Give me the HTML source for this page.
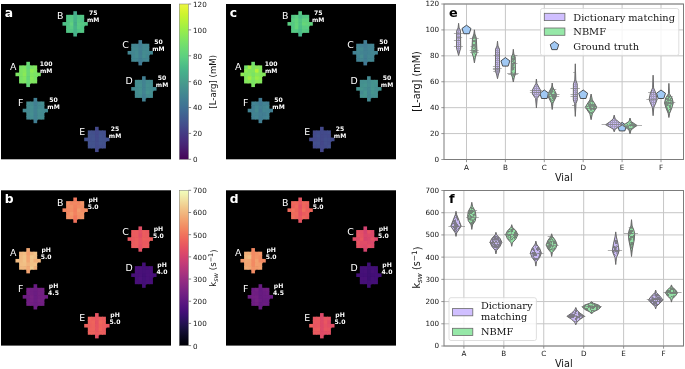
<!DOCTYPE html>
<html lang="en"><head><meta charset="utf-8"><title>Figure</title>
<style>html,body{margin:0;padding:0;background:#fff;}body{width:685px;height:369px;overflow:hidden;}svg{display:block;}</style></head>
<body>
<svg width="685" height="369" viewBox="0 0 685 369" font-family='"DejaVu Sans","Liberation Sans",sans-serif'>
<rect width="685" height="369" fill="#fff"/>
<g id="panel-a">
<rect x="1.0" y="4.0" width="170.0" height="155.3" fill="#000"/>
<rect x="26.32" y="61.79" width="3.62" height="4.31" fill="#69d975"/>
<rect x="19.09" y="65.40" width="4.32" height="4.31" fill="#79e266"/>
<rect x="22.70" y="65.40" width="4.32" height="4.31" fill="#7de463"/>
<rect x="26.32" y="65.40" width="4.32" height="4.31" fill="#64d57a"/>
<rect x="29.94" y="65.40" width="4.32" height="4.31" fill="#7ae366"/>
<rect x="33.55" y="65.40" width="3.62" height="4.31" fill="#83e65e"/>
<rect x="19.09" y="69.01" width="4.32" height="4.31" fill="#7ce463"/>
<rect x="22.70" y="69.01" width="4.32" height="4.31" fill="#84e75d"/>
<rect x="26.32" y="69.01" width="4.32" height="4.31" fill="#69d975"/>
<rect x="29.94" y="69.01" width="4.32" height="4.31" fill="#8eeb54"/>
<rect x="33.55" y="69.01" width="3.62" height="4.31" fill="#81e65f"/>
<rect x="15.47" y="72.62" width="4.32" height="3.61" fill="#7ce463"/>
<rect x="19.09" y="72.62" width="4.32" height="4.31" fill="#7ae366"/>
<rect x="22.70" y="72.62" width="4.32" height="4.31" fill="#8ae957"/>
<rect x="26.32" y="72.62" width="4.32" height="4.31" fill="#68d876"/>
<rect x="29.94" y="72.62" width="4.32" height="4.31" fill="#81e65f"/>
<rect x="33.55" y="72.62" width="4.32" height="4.31" fill="#7ae366"/>
<rect x="37.17" y="72.62" width="3.62" height="3.61" fill="#7be365"/>
<rect x="19.09" y="76.23" width="4.32" height="4.31" fill="#78e267"/>
<rect x="22.70" y="76.23" width="4.32" height="4.31" fill="#81e65f"/>
<rect x="26.32" y="76.23" width="4.32" height="4.31" fill="#64d57a"/>
<rect x="29.94" y="76.23" width="4.32" height="4.31" fill="#87e85a"/>
<rect x="33.55" y="76.23" width="3.62" height="4.31" fill="#7ae366"/>
<rect x="19.09" y="79.84" width="4.32" height="3.61" fill="#7be365"/>
<rect x="22.70" y="79.84" width="4.32" height="3.61" fill="#7ee562"/>
<rect x="26.32" y="79.84" width="4.32" height="4.31" fill="#69d975"/>
<rect x="29.94" y="79.84" width="4.32" height="3.61" fill="#81e65f"/>
<rect x="33.55" y="79.84" width="3.62" height="3.61" fill="#7fe561"/>
<rect x="26.32" y="83.46" width="3.62" height="3.61" fill="#65d679"/>
<text x="13.3" y="69.8" font-size="9.4" fill="#fff" text-anchor="middle">A</text>
<text font-size="6.1" font-weight="bold" fill="#fff" text-anchor="middle"><tspan x="46.2" y="65.8">100</tspan><tspan x="46.2" y="72.8">mM</tspan></text>
<rect x="73.34" y="11.22" width="3.62" height="4.31" fill="#46aa8c"/>
<rect x="66.11" y="14.83" width="4.32" height="4.31" fill="#50c386"/>
<rect x="69.72" y="14.83" width="4.32" height="4.31" fill="#54c784"/>
<rect x="73.34" y="14.83" width="4.32" height="4.31" fill="#48b48a"/>
<rect x="76.96" y="14.83" width="4.32" height="4.31" fill="#50c386"/>
<rect x="80.57" y="14.83" width="3.62" height="4.31" fill="#53c585"/>
<rect x="66.11" y="18.45" width="4.32" height="4.31" fill="#50c386"/>
<rect x="69.72" y="18.45" width="4.32" height="4.31" fill="#58ca83"/>
<rect x="73.34" y="18.45" width="4.32" height="4.31" fill="#47b28a"/>
<rect x="76.96" y="18.45" width="4.32" height="4.31" fill="#54c784"/>
<rect x="80.57" y="18.45" width="3.62" height="4.31" fill="#4ebf87"/>
<rect x="62.49" y="22.06" width="4.32" height="3.61" fill="#4dbe87"/>
<rect x="66.11" y="22.06" width="4.32" height="4.31" fill="#50c386"/>
<rect x="69.72" y="22.06" width="4.32" height="4.31" fill="#60d17f"/>
<rect x="73.34" y="22.06" width="4.32" height="4.31" fill="#46ad8b"/>
<rect x="76.96" y="22.06" width="4.32" height="4.31" fill="#58ca83"/>
<rect x="80.57" y="22.06" width="4.32" height="4.31" fill="#54c784"/>
<rect x="84.19" y="22.06" width="3.62" height="3.61" fill="#52c485"/>
<rect x="66.11" y="25.67" width="4.32" height="4.31" fill="#52c485"/>
<rect x="69.72" y="25.67" width="4.32" height="4.31" fill="#58ca83"/>
<rect x="73.34" y="25.67" width="4.32" height="4.31" fill="#48b38a"/>
<rect x="76.96" y="25.67" width="4.32" height="4.31" fill="#56c983"/>
<rect x="80.57" y="25.67" width="3.62" height="4.31" fill="#50c386"/>
<rect x="66.11" y="29.28" width="4.32" height="3.61" fill="#52c485"/>
<rect x="69.72" y="29.28" width="4.32" height="3.61" fill="#52c485"/>
<rect x="73.34" y="29.28" width="4.32" height="4.31" fill="#47b38a"/>
<rect x="76.96" y="29.28" width="4.32" height="3.61" fill="#4fc286"/>
<rect x="80.57" y="29.28" width="3.62" height="3.61" fill="#54c784"/>
<rect x="73.34" y="32.89" width="3.62" height="3.61" fill="#47b28a"/>
<text x="60.3" y="19.3" font-size="9.4" fill="#fff" text-anchor="middle">B</text>
<text font-size="6.1" font-weight="bold" fill="#fff" text-anchor="middle"><tspan x="93.2" y="15.3">75</tspan><tspan x="93.2" y="22.3">mM</tspan></text>
<rect x="138.45" y="40.12" width="3.62" height="4.31" fill="#417d93"/>
<rect x="131.21" y="43.73" width="4.32" height="4.31" fill="#438691"/>
<rect x="134.83" y="43.73" width="4.32" height="4.31" fill="#438691"/>
<rect x="138.45" y="43.73" width="4.32" height="4.31" fill="#427e92"/>
<rect x="142.06" y="43.73" width="4.32" height="4.31" fill="#448891"/>
<rect x="145.68" y="43.73" width="3.62" height="4.31" fill="#438791"/>
<rect x="131.21" y="47.34" width="4.32" height="4.31" fill="#448a91"/>
<rect x="134.83" y="47.34" width="4.32" height="4.31" fill="#448a91"/>
<rect x="138.45" y="47.34" width="4.32" height="4.31" fill="#428192"/>
<rect x="142.06" y="47.34" width="4.32" height="4.31" fill="#448991"/>
<rect x="145.68" y="47.34" width="3.62" height="4.31" fill="#448991"/>
<rect x="127.60" y="50.95" width="4.32" height="3.61" fill="#438591"/>
<rect x="131.21" y="50.95" width="4.32" height="4.31" fill="#438691"/>
<rect x="134.83" y="50.95" width="4.32" height="4.31" fill="#448b90"/>
<rect x="138.45" y="50.95" width="4.32" height="4.31" fill="#427e92"/>
<rect x="142.06" y="50.95" width="4.32" height="4.31" fill="#448b90"/>
<rect x="145.68" y="50.95" width="4.32" height="4.31" fill="#448991"/>
<rect x="149.30" y="50.95" width="3.62" height="3.61" fill="#438691"/>
<rect x="131.21" y="54.56" width="4.32" height="4.31" fill="#438791"/>
<rect x="134.83" y="54.56" width="4.32" height="4.31" fill="#448c90"/>
<rect x="138.45" y="54.56" width="4.32" height="4.31" fill="#428092"/>
<rect x="142.06" y="54.56" width="4.32" height="4.31" fill="#448d90"/>
<rect x="145.68" y="54.56" width="3.62" height="4.31" fill="#438691"/>
<rect x="131.21" y="58.17" width="4.32" height="3.61" fill="#438791"/>
<rect x="134.83" y="58.17" width="4.32" height="3.61" fill="#438791"/>
<rect x="138.45" y="58.17" width="4.32" height="4.31" fill="#417e92"/>
<rect x="142.06" y="58.17" width="4.32" height="3.61" fill="#438592"/>
<rect x="145.68" y="58.17" width="3.62" height="3.61" fill="#438791"/>
<rect x="138.45" y="61.79" width="3.62" height="3.61" fill="#417a93"/>
<text x="125.5" y="48.2" font-size="9.4" fill="#fff" text-anchor="middle">C</text>
<text font-size="6.1" font-weight="bold" fill="#fff" text-anchor="middle"><tspan x="158.4" y="44.2">50</tspan><tspan x="158.4" y="51.2">mM</tspan></text>
<rect x="142.06" y="76.23" width="3.62" height="4.31" fill="#427f92"/>
<rect x="134.83" y="79.84" width="4.32" height="4.31" fill="#458f90"/>
<rect x="138.45" y="79.84" width="4.32" height="4.31" fill="#448d90"/>
<rect x="142.06" y="79.84" width="4.32" height="4.31" fill="#428392"/>
<rect x="145.68" y="79.84" width="4.32" height="4.31" fill="#458d90"/>
<rect x="149.30" y="79.84" width="3.62" height="4.31" fill="#448c90"/>
<rect x="134.83" y="83.46" width="4.32" height="4.31" fill="#458d90"/>
<rect x="138.45" y="83.46" width="4.32" height="4.31" fill="#45918f"/>
<rect x="142.06" y="83.46" width="4.32" height="4.31" fill="#438392"/>
<rect x="145.68" y="83.46" width="4.32" height="4.31" fill="#45908f"/>
<rect x="149.30" y="83.46" width="3.62" height="4.31" fill="#458e90"/>
<rect x="131.21" y="87.07" width="4.32" height="3.61" fill="#448b90"/>
<rect x="134.83" y="87.07" width="4.32" height="4.31" fill="#448c90"/>
<rect x="138.45" y="87.07" width="4.32" height="4.31" fill="#45908f"/>
<rect x="142.06" y="87.07" width="4.32" height="4.31" fill="#438392"/>
<rect x="145.68" y="87.07" width="4.32" height="4.31" fill="#458f90"/>
<rect x="149.30" y="87.07" width="4.32" height="4.31" fill="#448d90"/>
<rect x="152.91" y="87.07" width="3.62" height="3.61" fill="#448a91"/>
<rect x="134.83" y="90.68" width="4.32" height="4.31" fill="#448c90"/>
<rect x="138.45" y="90.68" width="4.32" height="4.31" fill="#45918f"/>
<rect x="142.06" y="90.68" width="4.32" height="4.31" fill="#438492"/>
<rect x="145.68" y="90.68" width="4.32" height="4.31" fill="#46938f"/>
<rect x="149.30" y="90.68" width="3.62" height="4.31" fill="#458e90"/>
<rect x="134.83" y="94.29" width="4.32" height="3.61" fill="#448b90"/>
<rect x="138.45" y="94.29" width="4.32" height="3.61" fill="#448c90"/>
<rect x="142.06" y="94.29" width="4.32" height="4.31" fill="#427f92"/>
<rect x="145.68" y="94.29" width="4.32" height="3.61" fill="#448b90"/>
<rect x="149.30" y="94.29" width="3.62" height="3.61" fill="#448b90"/>
<rect x="142.06" y="97.90" width="3.62" height="3.61" fill="#428192"/>
<text x="129.1" y="84.3" font-size="9.4" fill="#fff" text-anchor="middle">D</text>
<text font-size="6.1" font-weight="bold" fill="#fff" text-anchor="middle"><tspan x="162.0" y="80.3">50</tspan><tspan x="162.0" y="87.3">mM</tspan></text>
<rect x="33.55" y="97.90" width="3.62" height="4.31" fill="#427f92"/>
<rect x="26.32" y="101.51" width="4.32" height="4.31" fill="#448c90"/>
<rect x="29.94" y="101.51" width="4.32" height="4.31" fill="#448b90"/>
<rect x="33.55" y="101.51" width="4.32" height="4.31" fill="#427e92"/>
<rect x="37.17" y="101.51" width="4.32" height="4.31" fill="#448a91"/>
<rect x="40.79" y="101.51" width="3.62" height="4.31" fill="#458e90"/>
<rect x="26.32" y="105.13" width="4.32" height="4.31" fill="#448b90"/>
<rect x="29.94" y="105.13" width="4.32" height="4.31" fill="#458f90"/>
<rect x="33.55" y="105.13" width="4.32" height="4.31" fill="#428192"/>
<rect x="37.17" y="105.13" width="4.32" height="4.31" fill="#448a91"/>
<rect x="40.79" y="105.13" width="3.62" height="4.31" fill="#448a91"/>
<rect x="22.70" y="108.74" width="4.32" height="3.61" fill="#448991"/>
<rect x="26.32" y="108.74" width="4.32" height="4.31" fill="#448991"/>
<rect x="29.94" y="108.74" width="4.32" height="4.31" fill="#458d90"/>
<rect x="33.55" y="108.74" width="4.32" height="4.31" fill="#428292"/>
<rect x="37.17" y="108.74" width="4.32" height="4.31" fill="#458e90"/>
<rect x="40.79" y="108.74" width="4.32" height="4.31" fill="#448b91"/>
<rect x="44.40" y="108.74" width="3.62" height="3.61" fill="#448991"/>
<rect x="26.32" y="112.35" width="4.32" height="4.31" fill="#448b90"/>
<rect x="29.94" y="112.35" width="4.32" height="4.31" fill="#458f90"/>
<rect x="33.55" y="112.35" width="4.32" height="4.31" fill="#428192"/>
<rect x="37.17" y="112.35" width="4.32" height="4.31" fill="#458c90"/>
<rect x="40.79" y="112.35" width="3.62" height="4.31" fill="#448a91"/>
<rect x="26.32" y="115.96" width="4.32" height="3.61" fill="#448891"/>
<rect x="29.94" y="115.96" width="4.32" height="3.61" fill="#448c90"/>
<rect x="33.55" y="115.96" width="4.32" height="4.31" fill="#428192"/>
<rect x="37.17" y="115.96" width="4.32" height="3.61" fill="#458c90"/>
<rect x="40.79" y="115.96" width="3.62" height="3.61" fill="#448c90"/>
<rect x="33.55" y="119.57" width="3.62" height="3.61" fill="#417e92"/>
<text x="20.6" y="105.9" font-size="9.4" fill="#fff" text-anchor="middle">F</text>
<text font-size="6.1" font-weight="bold" fill="#fff" text-anchor="middle"><tspan x="53.5" y="101.9">50</tspan><tspan x="53.5" y="108.9">mM</tspan></text>
<rect x="95.04" y="126.80" width="3.62" height="4.31" fill="#44498a"/>
<rect x="87.81" y="130.41" width="4.32" height="4.31" fill="#43528d"/>
<rect x="91.43" y="130.41" width="4.32" height="4.31" fill="#434f8c"/>
<rect x="95.04" y="130.41" width="4.32" height="4.31" fill="#444a8b"/>
<rect x="98.66" y="130.41" width="4.32" height="4.31" fill="#43518d"/>
<rect x="102.28" y="130.41" width="3.62" height="4.31" fill="#43508d"/>
<rect x="87.81" y="134.02" width="4.32" height="4.31" fill="#43528d"/>
<rect x="91.43" y="134.02" width="4.32" height="4.31" fill="#43528d"/>
<rect x="95.04" y="134.02" width="4.32" height="4.31" fill="#444a8b"/>
<rect x="98.66" y="134.02" width="4.32" height="4.31" fill="#43548e"/>
<rect x="102.28" y="134.02" width="3.62" height="4.31" fill="#43508d"/>
<rect x="84.19" y="137.63" width="4.32" height="3.61" fill="#43528d"/>
<rect x="87.81" y="137.63" width="4.32" height="4.31" fill="#43508d"/>
<rect x="91.43" y="137.63" width="4.32" height="4.31" fill="#43538e"/>
<rect x="95.04" y="137.63" width="4.32" height="4.31" fill="#434b8b"/>
<rect x="98.66" y="137.63" width="4.32" height="4.31" fill="#42548e"/>
<rect x="102.28" y="137.63" width="4.32" height="4.31" fill="#43528d"/>
<rect x="105.89" y="137.63" width="3.62" height="3.61" fill="#43528d"/>
<rect x="87.81" y="141.24" width="4.32" height="4.31" fill="#43538e"/>
<rect x="91.43" y="141.24" width="4.32" height="4.31" fill="#43528d"/>
<rect x="95.04" y="141.24" width="4.32" height="4.31" fill="#434d8c"/>
<rect x="98.66" y="141.24" width="4.32" height="4.31" fill="#43538e"/>
<rect x="102.28" y="141.24" width="3.62" height="4.31" fill="#43528d"/>
<rect x="87.81" y="144.85" width="4.32" height="3.61" fill="#43518d"/>
<rect x="91.43" y="144.85" width="4.32" height="3.61" fill="#43538e"/>
<rect x="95.04" y="144.85" width="4.32" height="4.31" fill="#434b8b"/>
<rect x="98.66" y="144.85" width="4.32" height="3.61" fill="#434f8c"/>
<rect x="102.28" y="144.85" width="3.62" height="3.61" fill="#43508d"/>
<rect x="95.04" y="148.47" width="3.62" height="3.61" fill="#44498a"/>
<text x="82.1" y="134.8" font-size="9.4" fill="#fff" text-anchor="middle">E</text>
<text font-size="6.1" font-weight="bold" fill="#fff" text-anchor="middle"><tspan x="115.0" y="130.8">25</tspan><tspan x="115.0" y="137.8">mM</tspan></text>
<text x="4.7" y="16.8" font-size="12.3" font-weight="bold" fill="#fff">a</text>
</g>
<g id="panel-b">
<rect x="1.0" y="190.3" width="170.0" height="155.3" fill="#000"/>
<rect x="26.32" y="248.09" width="3.62" height="4.31" fill="#f1a874"/>
<rect x="19.09" y="251.70" width="4.32" height="4.31" fill="#f0b77f"/>
<rect x="22.70" y="251.70" width="4.32" height="4.31" fill="#f1bd83"/>
<rect x="26.32" y="251.70" width="4.32" height="4.31" fill="#f29f6e"/>
<rect x="29.94" y="251.70" width="4.32" height="4.31" fill="#f0b77f"/>
<rect x="33.55" y="251.70" width="3.62" height="4.31" fill="#f1c388"/>
<rect x="19.09" y="255.31" width="4.32" height="4.31" fill="#f0b980"/>
<rect x="22.70" y="255.31" width="4.32" height="4.31" fill="#f1c388"/>
<rect x="26.32" y="255.31" width="4.32" height="4.31" fill="#f2a572"/>
<rect x="29.94" y="255.31" width="4.32" height="4.31" fill="#f1c98d"/>
<rect x="33.55" y="255.31" width="3.62" height="4.31" fill="#f1bf85"/>
<rect x="15.47" y="258.92" width="4.32" height="3.61" fill="#f1bb82"/>
<rect x="19.09" y="258.92" width="4.32" height="4.31" fill="#f0b980"/>
<rect x="22.70" y="258.92" width="4.32" height="4.31" fill="#f1c388"/>
<rect x="26.32" y="258.92" width="4.32" height="4.31" fill="#f2a673"/>
<rect x="29.94" y="258.92" width="4.32" height="4.31" fill="#f1c388"/>
<rect x="33.55" y="258.92" width="4.32" height="4.31" fill="#f1b079"/>
<rect x="37.17" y="258.92" width="3.62" height="3.61" fill="#f0b77f"/>
<rect x="19.09" y="262.53" width="4.32" height="4.31" fill="#f1bd83"/>
<rect x="22.70" y="262.53" width="4.32" height="4.31" fill="#f1bf85"/>
<rect x="26.32" y="262.53" width="4.32" height="4.31" fill="#f1b27b"/>
<rect x="29.94" y="262.53" width="4.32" height="4.31" fill="#f1c186"/>
<rect x="33.55" y="262.53" width="3.62" height="4.31" fill="#f1c388"/>
<rect x="19.09" y="266.14" width="4.32" height="3.61" fill="#f0b980"/>
<rect x="22.70" y="266.14" width="4.32" height="3.61" fill="#f0b77f"/>
<rect x="26.32" y="266.14" width="4.32" height="4.31" fill="#f1aa75"/>
<rect x="29.94" y="266.14" width="4.32" height="3.61" fill="#f1cd90"/>
<rect x="33.55" y="266.14" width="3.62" height="3.61" fill="#f1b27b"/>
<rect x="26.32" y="269.76" width="3.62" height="3.61" fill="#f2a370"/>
<text x="13.3" y="256.1" font-size="9.4" fill="#fff" text-anchor="middle">A</text>
<text font-size="6.1" font-weight="bold" fill="#fff" text-anchor="middle"><tspan x="46.2" y="252.1">pH</tspan><tspan x="46.2" y="259.1">5.0</tspan></text>
<rect x="73.34" y="197.52" width="3.62" height="4.31" fill="#f1795e"/>
<rect x="66.11" y="201.13" width="4.32" height="4.31" fill="#f29267"/>
<rect x="69.72" y="201.13" width="4.32" height="4.31" fill="#f28662"/>
<rect x="73.34" y="201.13" width="4.32" height="4.31" fill="#f28862"/>
<rect x="76.96" y="201.13" width="4.32" height="4.31" fill="#f28662"/>
<rect x="80.57" y="201.13" width="3.62" height="4.31" fill="#f29669"/>
<rect x="66.11" y="204.75" width="4.32" height="4.31" fill="#f28c64"/>
<rect x="69.72" y="204.75" width="4.32" height="4.31" fill="#f29066"/>
<rect x="73.34" y="204.75" width="4.32" height="4.31" fill="#f28360"/>
<rect x="76.96" y="204.75" width="4.32" height="4.31" fill="#f28c64"/>
<rect x="80.57" y="204.75" width="3.62" height="4.31" fill="#f28e65"/>
<rect x="62.49" y="208.36" width="4.32" height="3.61" fill="#f28561"/>
<rect x="66.11" y="208.36" width="4.32" height="4.31" fill="#f28862"/>
<rect x="69.72" y="208.36" width="4.32" height="4.31" fill="#f28e65"/>
<rect x="73.34" y="208.36" width="4.32" height="4.31" fill="#f27f5f"/>
<rect x="76.96" y="208.36" width="4.32" height="4.31" fill="#f29b6c"/>
<rect x="80.57" y="208.36" width="4.32" height="4.31" fill="#f28c64"/>
<rect x="84.19" y="208.36" width="3.62" height="3.61" fill="#f29066"/>
<rect x="66.11" y="211.97" width="4.32" height="4.31" fill="#f28a63"/>
<rect x="69.72" y="211.97" width="4.32" height="4.31" fill="#f2976a"/>
<rect x="73.34" y="211.97" width="4.32" height="4.31" fill="#f28360"/>
<rect x="76.96" y="211.97" width="4.32" height="4.31" fill="#f29267"/>
<rect x="80.57" y="211.97" width="3.62" height="4.31" fill="#f29267"/>
<rect x="66.11" y="215.58" width="4.32" height="3.61" fill="#f29066"/>
<rect x="69.72" y="215.58" width="4.32" height="3.61" fill="#f29066"/>
<rect x="73.34" y="215.58" width="4.32" height="4.31" fill="#f1775d"/>
<rect x="76.96" y="215.58" width="4.32" height="3.61" fill="#f28e65"/>
<rect x="80.57" y="215.58" width="3.62" height="3.61" fill="#f29669"/>
<rect x="73.34" y="219.19" width="3.62" height="3.61" fill="#f0725c"/>
<text x="60.3" y="205.6" font-size="9.4" fill="#fff" text-anchor="middle">B</text>
<text font-size="6.1" font-weight="bold" fill="#fff" text-anchor="middle"><tspan x="93.2" y="201.6">pH</tspan><tspan x="93.2" y="208.6">5.0</tspan></text>
<rect x="138.45" y="226.42" width="3.62" height="4.31" fill="#e24f65"/>
<rect x="131.21" y="230.03" width="4.32" height="4.31" fill="#ea5b5f"/>
<rect x="134.83" y="230.03" width="4.32" height="4.31" fill="#eb5c5e"/>
<rect x="138.45" y="230.03" width="4.32" height="4.31" fill="#e55263"/>
<rect x="142.06" y="230.03" width="4.32" height="4.31" fill="#eb5e5e"/>
<rect x="145.68" y="230.03" width="3.62" height="4.31" fill="#e9595f"/>
<rect x="131.21" y="233.64" width="4.32" height="4.31" fill="#ea5b5f"/>
<rect x="134.83" y="233.64" width="4.32" height="4.31" fill="#eb5c5e"/>
<rect x="138.45" y="233.64" width="4.32" height="4.31" fill="#e14e66"/>
<rect x="142.06" y="233.64" width="4.32" height="4.31" fill="#eb5c5e"/>
<rect x="145.68" y="233.64" width="3.62" height="4.31" fill="#ea5b5f"/>
<rect x="127.60" y="237.25" width="4.32" height="3.61" fill="#e95860"/>
<rect x="131.21" y="237.25" width="4.32" height="4.31" fill="#e9595f"/>
<rect x="134.83" y="237.25" width="4.32" height="4.31" fill="#ec5e5e"/>
<rect x="138.45" y="237.25" width="4.32" height="4.31" fill="#e65462"/>
<rect x="142.06" y="237.25" width="4.32" height="4.31" fill="#ec5f5d"/>
<rect x="145.68" y="237.25" width="4.32" height="4.31" fill="#eb5c5e"/>
<rect x="149.30" y="237.25" width="3.62" height="3.61" fill="#ec5f5d"/>
<rect x="131.21" y="240.86" width="4.32" height="4.31" fill="#ea5b5f"/>
<rect x="134.83" y="240.86" width="4.32" height="4.31" fill="#ec5f5d"/>
<rect x="138.45" y="240.86" width="4.32" height="4.31" fill="#e65462"/>
<rect x="142.06" y="240.86" width="4.32" height="4.31" fill="#ea595f"/>
<rect x="145.68" y="240.86" width="3.62" height="4.31" fill="#e9595f"/>
<rect x="131.21" y="244.47" width="4.32" height="3.61" fill="#eb5c5e"/>
<rect x="134.83" y="244.47" width="4.32" height="3.61" fill="#eb5e5e"/>
<rect x="138.45" y="244.47" width="4.32" height="4.31" fill="#e35064"/>
<rect x="142.06" y="244.47" width="4.32" height="3.61" fill="#ea5b5f"/>
<rect x="145.68" y="244.47" width="3.62" height="3.61" fill="#eb5c5e"/>
<rect x="138.45" y="248.09" width="3.62" height="3.61" fill="#e45163"/>
<text x="125.5" y="234.5" font-size="9.4" fill="#fff" text-anchor="middle">C</text>
<text font-size="6.1" font-weight="bold" fill="#fff" text-anchor="middle"><tspan x="158.4" y="230.5">pH</tspan><tspan x="158.4" y="237.5">5.0</tspan></text>
<rect x="142.06" y="262.53" width="3.62" height="4.31" fill="#420f75"/>
<rect x="134.83" y="266.14" width="4.32" height="4.31" fill="#491079"/>
<rect x="138.45" y="266.14" width="4.32" height="4.31" fill="#491079"/>
<rect x="142.06" y="266.14" width="4.32" height="4.31" fill="#440f77"/>
<rect x="145.68" y="266.14" width="4.32" height="4.31" fill="#440f77"/>
<rect x="149.30" y="266.14" width="3.62" height="4.31" fill="#491079"/>
<rect x="134.83" y="269.76" width="4.32" height="4.31" fill="#4a107a"/>
<rect x="138.45" y="269.76" width="4.32" height="4.31" fill="#491079"/>
<rect x="142.06" y="269.76" width="4.32" height="4.31" fill="#471078"/>
<rect x="145.68" y="269.76" width="4.32" height="4.31" fill="#491079"/>
<rect x="149.30" y="269.76" width="3.62" height="4.31" fill="#491079"/>
<rect x="131.21" y="273.37" width="4.32" height="3.61" fill="#471078"/>
<rect x="134.83" y="273.37" width="4.32" height="4.31" fill="#471078"/>
<rect x="138.45" y="273.37" width="4.32" height="4.31" fill="#4a107a"/>
<rect x="142.06" y="273.37" width="4.32" height="4.31" fill="#440f77"/>
<rect x="145.68" y="273.37" width="4.32" height="4.31" fill="#4a107a"/>
<rect x="149.30" y="273.37" width="4.32" height="4.31" fill="#4a107a"/>
<rect x="152.91" y="273.37" width="3.62" height="3.61" fill="#471078"/>
<rect x="134.83" y="276.98" width="4.32" height="4.31" fill="#471078"/>
<rect x="138.45" y="276.98" width="4.32" height="4.31" fill="#4c117b"/>
<rect x="142.06" y="276.98" width="4.32" height="4.31" fill="#451078"/>
<rect x="145.68" y="276.98" width="4.32" height="4.31" fill="#4a107a"/>
<rect x="149.30" y="276.98" width="3.62" height="4.31" fill="#471078"/>
<rect x="134.83" y="280.59" width="4.32" height="3.61" fill="#491079"/>
<rect x="138.45" y="280.59" width="4.32" height="3.61" fill="#471078"/>
<rect x="142.06" y="280.59" width="4.32" height="4.31" fill="#440f77"/>
<rect x="145.68" y="280.59" width="4.32" height="3.61" fill="#491079"/>
<rect x="149.30" y="280.59" width="3.62" height="3.61" fill="#491079"/>
<rect x="142.06" y="284.20" width="3.62" height="3.61" fill="#451078"/>
<text x="129.1" y="270.6" font-size="9.4" fill="#fff" text-anchor="middle">D</text>
<text font-size="6.1" font-weight="bold" fill="#fff" text-anchor="middle"><tspan x="162.0" y="266.6">pH</tspan><tspan x="162.0" y="273.6">4.0</tspan></text>
<rect x="33.55" y="284.20" width="3.62" height="4.31" fill="#681c82"/>
<rect x="26.32" y="287.81" width="4.32" height="4.31" fill="#732083"/>
<rect x="29.94" y="287.81" width="4.32" height="4.31" fill="#701f82"/>
<rect x="33.55" y="287.81" width="4.32" height="4.31" fill="#6d1d82"/>
<rect x="37.17" y="287.81" width="4.32" height="4.31" fill="#721f82"/>
<rect x="40.79" y="287.81" width="3.62" height="4.31" fill="#721f82"/>
<rect x="26.32" y="291.43" width="4.32" height="4.31" fill="#721f82"/>
<rect x="29.94" y="291.43" width="4.32" height="4.31" fill="#701f82"/>
<rect x="33.55" y="291.43" width="4.32" height="4.31" fill="#6b1d82"/>
<rect x="37.17" y="291.43" width="4.32" height="4.31" fill="#721f82"/>
<rect x="40.79" y="291.43" width="3.62" height="4.31" fill="#701f82"/>
<rect x="22.70" y="295.04" width="4.32" height="3.61" fill="#6d1d82"/>
<rect x="26.32" y="295.04" width="4.32" height="4.31" fill="#6e1e82"/>
<rect x="29.94" y="295.04" width="4.32" height="4.31" fill="#762183"/>
<rect x="33.55" y="295.04" width="4.32" height="4.31" fill="#6b1d82"/>
<rect x="37.17" y="295.04" width="4.32" height="4.31" fill="#721f82"/>
<rect x="40.79" y="295.04" width="4.32" height="4.31" fill="#721f82"/>
<rect x="44.40" y="295.04" width="3.62" height="3.61" fill="#6d1d82"/>
<rect x="26.32" y="298.65" width="4.32" height="4.31" fill="#6e1e82"/>
<rect x="29.94" y="298.65" width="4.32" height="4.31" fill="#732083"/>
<rect x="33.55" y="298.65" width="4.32" height="4.31" fill="#6b1d82"/>
<rect x="37.17" y="298.65" width="4.32" height="4.31" fill="#732083"/>
<rect x="40.79" y="298.65" width="3.62" height="4.31" fill="#721f82"/>
<rect x="26.32" y="302.26" width="4.32" height="3.61" fill="#701f82"/>
<rect x="29.94" y="302.26" width="4.32" height="3.61" fill="#701f82"/>
<rect x="33.55" y="302.26" width="4.32" height="4.31" fill="#6b1d82"/>
<rect x="37.17" y="302.26" width="4.32" height="3.61" fill="#701f82"/>
<rect x="40.79" y="302.26" width="3.62" height="3.61" fill="#701f82"/>
<rect x="33.55" y="305.87" width="3.62" height="3.61" fill="#6b1d82"/>
<text x="20.6" y="292.2" font-size="9.4" fill="#fff" text-anchor="middle">F</text>
<text font-size="6.1" font-weight="bold" fill="#fff" text-anchor="middle"><tspan x="53.5" y="288.2">pH</tspan><tspan x="53.5" y="295.2">4.5</tspan></text>
<rect x="95.04" y="313.10" width="3.62" height="4.31" fill="#e65462"/>
<rect x="87.81" y="316.71" width="4.32" height="4.31" fill="#ee645c"/>
<rect x="91.43" y="316.71" width="4.32" height="4.31" fill="#eb5c5e"/>
<rect x="95.04" y="316.71" width="4.32" height="4.31" fill="#e75561"/>
<rect x="98.66" y="316.71" width="4.32" height="4.31" fill="#eb5e5e"/>
<rect x="102.28" y="316.71" width="3.62" height="4.31" fill="#ea5b5f"/>
<rect x="87.81" y="320.32" width="4.32" height="4.31" fill="#ec615d"/>
<rect x="91.43" y="320.32" width="4.32" height="4.31" fill="#ee645c"/>
<rect x="95.04" y="320.32" width="4.32" height="4.31" fill="#e55263"/>
<rect x="98.66" y="320.32" width="4.32" height="4.31" fill="#ee675c"/>
<rect x="102.28" y="320.32" width="3.62" height="4.31" fill="#ec615d"/>
<rect x="84.19" y="323.93" width="4.32" height="3.61" fill="#ed625d"/>
<rect x="87.81" y="323.93" width="4.32" height="4.31" fill="#eb5e5e"/>
<rect x="91.43" y="323.93" width="4.32" height="4.31" fill="#ed625d"/>
<rect x="95.04" y="323.93" width="4.32" height="4.31" fill="#e65462"/>
<rect x="98.66" y="323.93" width="4.32" height="4.31" fill="#ed615d"/>
<rect x="102.28" y="323.93" width="4.32" height="4.31" fill="#eb5e5e"/>
<rect x="105.89" y="323.93" width="3.62" height="3.61" fill="#e85661"/>
<rect x="87.81" y="327.54" width="4.32" height="4.31" fill="#ec615d"/>
<rect x="91.43" y="327.54" width="4.32" height="4.31" fill="#ed625d"/>
<rect x="95.04" y="327.54" width="4.32" height="4.31" fill="#e75561"/>
<rect x="98.66" y="327.54" width="4.32" height="4.31" fill="#ee645c"/>
<rect x="102.28" y="327.54" width="3.62" height="4.31" fill="#ea5b5f"/>
<rect x="87.81" y="331.15" width="4.32" height="3.61" fill="#ed625d"/>
<rect x="91.43" y="331.15" width="4.32" height="3.61" fill="#ed625d"/>
<rect x="95.04" y="331.15" width="4.32" height="4.31" fill="#e9595f"/>
<rect x="98.66" y="331.15" width="4.32" height="3.61" fill="#ec5f5d"/>
<rect x="102.28" y="331.15" width="3.62" height="3.61" fill="#eb5e5e"/>
<rect x="95.04" y="334.77" width="3.62" height="3.61" fill="#e35064"/>
<text x="82.1" y="321.1" font-size="9.4" fill="#fff" text-anchor="middle">E</text>
<text font-size="6.1" font-weight="bold" fill="#fff" text-anchor="middle"><tspan x="115.0" y="317.1">pH</tspan><tspan x="115.0" y="324.1">5.0</tspan></text>
<text x="4.7" y="203.1" font-size="12.3" font-weight="bold" fill="#fff">b</text>
</g>
<g id="panel-c">
<rect x="226.0" y="4.0" width="170.0" height="155.3" fill="#000"/>
<rect x="251.32" y="61.79" width="3.62" height="4.31" fill="#71de6e"/>
<rect x="244.09" y="65.40" width="4.32" height="4.31" fill="#75e06a"/>
<rect x="247.70" y="65.40" width="4.32" height="4.31" fill="#a4f043"/>
<rect x="251.32" y="65.40" width="4.32" height="4.31" fill="#7de463"/>
<rect x="254.94" y="65.40" width="4.32" height="4.31" fill="#8ae957"/>
<rect x="258.55" y="65.40" width="3.62" height="4.31" fill="#85e85b"/>
<rect x="244.09" y="69.01" width="4.32" height="4.31" fill="#8feb52"/>
<rect x="247.70" y="69.01" width="4.32" height="4.31" fill="#82e65e"/>
<rect x="251.32" y="69.01" width="4.32" height="4.31" fill="#82e65e"/>
<rect x="254.94" y="69.01" width="4.32" height="4.31" fill="#b3f23b"/>
<rect x="258.55" y="69.01" width="3.62" height="4.31" fill="#83e65e"/>
<rect x="240.47" y="72.62" width="4.32" height="3.61" fill="#8eeb54"/>
<rect x="244.09" y="72.62" width="4.32" height="4.31" fill="#81e65f"/>
<rect x="247.70" y="72.62" width="4.32" height="4.31" fill="#87e85a"/>
<rect x="251.32" y="72.62" width="4.32" height="4.31" fill="#7ae366"/>
<rect x="254.94" y="72.62" width="4.32" height="4.31" fill="#8ae957"/>
<rect x="258.55" y="72.62" width="4.32" height="4.31" fill="#84e75d"/>
<rect x="262.17" y="72.62" width="3.62" height="3.61" fill="#85e85b"/>
<rect x="244.09" y="76.23" width="4.32" height="4.31" fill="#87e85a"/>
<rect x="247.70" y="76.23" width="4.32" height="4.31" fill="#a0ef46"/>
<rect x="251.32" y="76.23" width="4.32" height="4.31" fill="#81e65f"/>
<rect x="254.94" y="76.23" width="4.32" height="4.31" fill="#98ee4a"/>
<rect x="258.55" y="76.23" width="3.62" height="4.31" fill="#8cea55"/>
<rect x="244.09" y="79.84" width="4.32" height="3.61" fill="#84e75d"/>
<rect x="247.70" y="79.84" width="4.32" height="3.61" fill="#87e85a"/>
<rect x="251.32" y="79.84" width="4.32" height="4.31" fill="#7be365"/>
<rect x="254.94" y="79.84" width="4.32" height="3.61" fill="#89e958"/>
<rect x="258.55" y="79.84" width="3.62" height="3.61" fill="#84e75d"/>
<rect x="251.32" y="83.46" width="3.62" height="3.61" fill="#7de463"/>
<text x="238.3" y="69.8" font-size="9.4" fill="#fff" text-anchor="middle">A</text>
<text font-size="6.1" font-weight="bold" fill="#fff" text-anchor="middle"><tspan x="271.2" y="65.8">100</tspan><tspan x="271.2" y="72.8">mM</tspan></text>
<rect x="298.34" y="11.22" width="3.62" height="4.31" fill="#55c884"/>
<rect x="291.11" y="14.83" width="4.32" height="4.31" fill="#52c485"/>
<rect x="294.72" y="14.83" width="4.32" height="4.31" fill="#5cce81"/>
<rect x="298.34" y="14.83" width="4.32" height="4.31" fill="#4bbc88"/>
<rect x="301.96" y="14.83" width="4.32" height="4.31" fill="#54c784"/>
<rect x="305.57" y="14.83" width="3.62" height="4.31" fill="#55c884"/>
<rect x="291.11" y="18.45" width="4.32" height="4.31" fill="#5bcd81"/>
<rect x="294.72" y="18.45" width="4.32" height="4.31" fill="#61d37d"/>
<rect x="298.34" y="18.45" width="4.32" height="4.31" fill="#52c485"/>
<rect x="301.96" y="18.45" width="4.32" height="4.31" fill="#60d17f"/>
<rect x="305.57" y="18.45" width="3.62" height="4.31" fill="#5fd080"/>
<rect x="287.49" y="22.06" width="4.32" height="3.61" fill="#5acd81"/>
<rect x="291.11" y="22.06" width="4.32" height="4.31" fill="#56c983"/>
<rect x="294.72" y="22.06" width="4.32" height="4.31" fill="#63d47c"/>
<rect x="298.34" y="22.06" width="4.32" height="4.31" fill="#52c485"/>
<rect x="301.96" y="22.06" width="4.32" height="4.31" fill="#65d679"/>
<rect x="305.57" y="22.06" width="4.32" height="4.31" fill="#62d37d"/>
<rect x="309.19" y="22.06" width="3.62" height="3.61" fill="#61d27e"/>
<rect x="291.11" y="25.67" width="4.32" height="4.31" fill="#55c884"/>
<rect x="294.72" y="25.67" width="4.32" height="4.31" fill="#65d679"/>
<rect x="298.34" y="25.67" width="4.32" height="4.31" fill="#4ebf87"/>
<rect x="301.96" y="25.67" width="4.32" height="4.31" fill="#59cc82"/>
<rect x="305.57" y="25.67" width="3.62" height="4.31" fill="#5bcd82"/>
<rect x="291.11" y="29.28" width="4.32" height="3.61" fill="#56c983"/>
<rect x="294.72" y="29.28" width="4.32" height="3.61" fill="#55c884"/>
<rect x="298.34" y="29.28" width="4.32" height="4.31" fill="#4bbc88"/>
<rect x="301.96" y="29.28" width="4.32" height="3.61" fill="#58ca83"/>
<rect x="305.57" y="29.28" width="3.62" height="3.61" fill="#53c585"/>
<rect x="298.34" y="32.89" width="3.62" height="3.61" fill="#48b48a"/>
<text x="285.3" y="19.3" font-size="9.4" fill="#fff" text-anchor="middle">B</text>
<text font-size="6.1" font-weight="bold" fill="#fff" text-anchor="middle"><tspan x="318.2" y="15.3">75</tspan><tspan x="318.2" y="22.3">mM</tspan></text>
<rect x="363.45" y="40.12" width="3.62" height="4.31" fill="#417c93"/>
<rect x="356.21" y="43.73" width="4.32" height="4.31" fill="#428392"/>
<rect x="359.83" y="43.73" width="4.32" height="4.31" fill="#428092"/>
<rect x="363.45" y="43.73" width="4.32" height="4.31" fill="#417b93"/>
<rect x="367.06" y="43.73" width="4.32" height="4.31" fill="#438392"/>
<rect x="370.68" y="43.73" width="3.62" height="4.31" fill="#438492"/>
<rect x="356.21" y="47.34" width="4.32" height="4.31" fill="#438791"/>
<rect x="359.83" y="47.34" width="4.32" height="4.31" fill="#448991"/>
<rect x="363.45" y="47.34" width="4.32" height="4.31" fill="#427e92"/>
<rect x="367.06" y="47.34" width="4.32" height="4.31" fill="#438492"/>
<rect x="370.68" y="47.34" width="3.62" height="4.31" fill="#428492"/>
<rect x="352.60" y="50.95" width="4.32" height="3.61" fill="#427f92"/>
<rect x="356.21" y="50.95" width="4.32" height="4.31" fill="#438591"/>
<rect x="359.83" y="50.95" width="4.32" height="4.31" fill="#438591"/>
<rect x="363.45" y="50.95" width="4.32" height="4.31" fill="#428192"/>
<rect x="367.06" y="50.95" width="4.32" height="4.31" fill="#428392"/>
<rect x="370.68" y="50.95" width="4.32" height="4.31" fill="#438691"/>
<rect x="374.30" y="50.95" width="3.62" height="3.61" fill="#438492"/>
<rect x="356.21" y="54.56" width="4.32" height="4.31" fill="#428392"/>
<rect x="359.83" y="54.56" width="4.32" height="4.31" fill="#458c90"/>
<rect x="363.45" y="54.56" width="4.32" height="4.31" fill="#427e92"/>
<rect x="367.06" y="54.56" width="4.32" height="4.31" fill="#438691"/>
<rect x="370.68" y="54.56" width="3.62" height="4.31" fill="#438492"/>
<rect x="356.21" y="58.17" width="4.32" height="3.61" fill="#428192"/>
<rect x="359.83" y="58.17" width="4.32" height="3.61" fill="#438691"/>
<rect x="363.45" y="58.17" width="4.32" height="4.31" fill="#417d93"/>
<rect x="367.06" y="58.17" width="4.32" height="3.61" fill="#438691"/>
<rect x="370.68" y="58.17" width="3.62" height="3.61" fill="#438691"/>
<rect x="363.45" y="61.79" width="3.62" height="3.61" fill="#417993"/>
<text x="350.5" y="48.2" font-size="9.4" fill="#fff" text-anchor="middle">C</text>
<text font-size="6.1" font-weight="bold" fill="#fff" text-anchor="middle"><tspan x="383.4" y="44.2">50</tspan><tspan x="383.4" y="51.2">mM</tspan></text>
<rect x="367.06" y="76.23" width="3.62" height="4.31" fill="#448a91"/>
<rect x="359.83" y="79.84" width="4.32" height="4.31" fill="#458f90"/>
<rect x="363.45" y="79.84" width="4.32" height="4.31" fill="#45908f"/>
<rect x="367.06" y="79.84" width="4.32" height="4.31" fill="#448b90"/>
<rect x="370.68" y="79.84" width="4.32" height="4.31" fill="#45928f"/>
<rect x="374.30" y="79.84" width="3.62" height="4.31" fill="#46958e"/>
<rect x="359.83" y="83.46" width="4.32" height="4.31" fill="#45918f"/>
<rect x="363.45" y="83.46" width="4.32" height="4.31" fill="#46948f"/>
<rect x="367.06" y="83.46" width="4.32" height="4.31" fill="#458d90"/>
<rect x="370.68" y="83.46" width="4.32" height="4.31" fill="#46948f"/>
<rect x="374.30" y="83.46" width="3.62" height="4.31" fill="#45918f"/>
<rect x="356.21" y="87.07" width="4.32" height="3.61" fill="#46928f"/>
<rect x="359.83" y="87.07" width="4.32" height="4.31" fill="#46958e"/>
<rect x="363.45" y="87.07" width="4.32" height="4.31" fill="#458f90"/>
<rect x="367.06" y="87.07" width="4.32" height="4.31" fill="#448a91"/>
<rect x="370.68" y="87.07" width="4.32" height="4.31" fill="#46968e"/>
<rect x="374.30" y="87.07" width="4.32" height="4.31" fill="#458e90"/>
<rect x="377.91" y="87.07" width="3.62" height="3.61" fill="#45908f"/>
<rect x="359.83" y="90.68" width="4.32" height="4.31" fill="#448a91"/>
<rect x="363.45" y="90.68" width="4.32" height="4.31" fill="#47968e"/>
<rect x="367.06" y="90.68" width="4.32" height="4.31" fill="#438791"/>
<rect x="370.68" y="90.68" width="4.32" height="4.31" fill="#46948e"/>
<rect x="374.30" y="90.68" width="3.62" height="4.31" fill="#45908f"/>
<rect x="359.83" y="94.29" width="4.32" height="3.61" fill="#46928f"/>
<rect x="363.45" y="94.29" width="4.32" height="3.61" fill="#46958e"/>
<rect x="367.06" y="94.29" width="4.32" height="4.31" fill="#438691"/>
<rect x="370.68" y="94.29" width="4.32" height="3.61" fill="#458f90"/>
<rect x="374.30" y="94.29" width="3.62" height="3.61" fill="#45908f"/>
<rect x="367.06" y="97.90" width="3.62" height="3.61" fill="#448a91"/>
<text x="354.1" y="84.3" font-size="9.4" fill="#fff" text-anchor="middle">D</text>
<text font-size="6.1" font-weight="bold" fill="#fff" text-anchor="middle"><tspan x="387.0" y="80.3">50</tspan><tspan x="387.0" y="87.3">mM</tspan></text>
<rect x="258.55" y="97.90" width="3.62" height="4.31" fill="#417a93"/>
<rect x="251.32" y="101.51" width="4.32" height="4.31" fill="#438492"/>
<rect x="254.94" y="101.51" width="4.32" height="4.31" fill="#428192"/>
<rect x="258.55" y="101.51" width="4.32" height="4.31" fill="#417a93"/>
<rect x="262.17" y="101.51" width="4.32" height="4.31" fill="#428292"/>
<rect x="265.79" y="101.51" width="3.62" height="4.31" fill="#427e92"/>
<rect x="251.32" y="105.13" width="4.32" height="4.31" fill="#427f92"/>
<rect x="254.94" y="105.13" width="4.32" height="4.31" fill="#438891"/>
<rect x="258.55" y="105.13" width="4.32" height="4.31" fill="#427f92"/>
<rect x="262.17" y="105.13" width="4.32" height="4.31" fill="#438392"/>
<rect x="265.79" y="105.13" width="3.62" height="4.31" fill="#438891"/>
<rect x="247.70" y="108.74" width="4.32" height="3.61" fill="#428392"/>
<rect x="251.32" y="108.74" width="4.32" height="4.31" fill="#428092"/>
<rect x="254.94" y="108.74" width="4.32" height="4.31" fill="#448b90"/>
<rect x="258.55" y="108.74" width="4.32" height="4.31" fill="#417993"/>
<rect x="262.17" y="108.74" width="4.32" height="4.31" fill="#438591"/>
<rect x="265.79" y="108.74" width="4.32" height="4.31" fill="#428392"/>
<rect x="269.40" y="108.74" width="3.62" height="3.61" fill="#427f92"/>
<rect x="251.32" y="112.35" width="4.32" height="4.31" fill="#428492"/>
<rect x="254.94" y="112.35" width="4.32" height="4.31" fill="#438392"/>
<rect x="258.55" y="112.35" width="4.32" height="4.31" fill="#427e92"/>
<rect x="262.17" y="112.35" width="4.32" height="4.31" fill="#427d93"/>
<rect x="265.79" y="112.35" width="3.62" height="4.31" fill="#438392"/>
<rect x="251.32" y="115.96" width="4.32" height="3.61" fill="#428092"/>
<rect x="254.94" y="115.96" width="4.32" height="3.61" fill="#438691"/>
<rect x="258.55" y="115.96" width="4.32" height="4.31" fill="#417b93"/>
<rect x="262.17" y="115.96" width="4.32" height="3.61" fill="#428192"/>
<rect x="265.79" y="115.96" width="3.62" height="3.61" fill="#438592"/>
<rect x="258.55" y="119.57" width="3.62" height="3.61" fill="#427f92"/>
<text x="245.6" y="105.9" font-size="9.4" fill="#fff" text-anchor="middle">F</text>
<text font-size="6.1" font-weight="bold" fill="#fff" text-anchor="middle"><tspan x="278.5" y="101.9">50</tspan><tspan x="278.5" y="108.9">mM</tspan></text>
<rect x="320.04" y="126.80" width="3.62" height="4.31" fill="#44498a"/>
<rect x="312.81" y="130.41" width="4.32" height="4.31" fill="#44498a"/>
<rect x="316.43" y="130.41" width="4.32" height="4.31" fill="#434d8c"/>
<rect x="320.04" y="130.41" width="4.32" height="4.31" fill="#434a8b"/>
<rect x="323.66" y="130.41" width="4.32" height="4.31" fill="#434a8b"/>
<rect x="327.28" y="130.41" width="3.62" height="4.31" fill="#434e8c"/>
<rect x="312.81" y="134.02" width="4.32" height="4.31" fill="#444b8b"/>
<rect x="316.43" y="134.02" width="4.32" height="4.31" fill="#43508d"/>
<rect x="320.04" y="134.02" width="4.32" height="4.31" fill="#44498a"/>
<rect x="323.66" y="134.02" width="4.32" height="4.31" fill="#434b8b"/>
<rect x="327.28" y="134.02" width="3.62" height="4.31" fill="#444a8b"/>
<rect x="309.19" y="137.63" width="4.32" height="3.61" fill="#444a8b"/>
<rect x="312.81" y="137.63" width="4.32" height="4.31" fill="#444a8b"/>
<rect x="316.43" y="137.63" width="4.32" height="4.31" fill="#434d8c"/>
<rect x="320.04" y="137.63" width="4.32" height="4.31" fill="#44498a"/>
<rect x="323.66" y="137.63" width="4.32" height="4.31" fill="#434e8c"/>
<rect x="327.28" y="137.63" width="4.32" height="4.31" fill="#434d8c"/>
<rect x="330.89" y="137.63" width="3.62" height="3.61" fill="#434b8b"/>
<rect x="312.81" y="141.24" width="4.32" height="4.31" fill="#434f8d"/>
<rect x="316.43" y="141.24" width="4.32" height="4.31" fill="#43508d"/>
<rect x="320.04" y="141.24" width="4.32" height="4.31" fill="#44478a"/>
<rect x="323.66" y="141.24" width="4.32" height="4.31" fill="#434e8c"/>
<rect x="327.28" y="141.24" width="3.62" height="4.31" fill="#434b8b"/>
<rect x="312.81" y="144.85" width="4.32" height="3.61" fill="#434a8b"/>
<rect x="316.43" y="144.85" width="4.32" height="3.61" fill="#434e8c"/>
<rect x="320.04" y="144.85" width="4.32" height="4.31" fill="#44498a"/>
<rect x="323.66" y="144.85" width="4.32" height="3.61" fill="#434b8b"/>
<rect x="327.28" y="144.85" width="3.62" height="3.61" fill="#43518d"/>
<rect x="320.04" y="148.47" width="3.62" height="3.61" fill="#444689"/>
<text x="307.1" y="134.8" font-size="9.4" fill="#fff" text-anchor="middle">E</text>
<text font-size="6.1" font-weight="bold" fill="#fff" text-anchor="middle"><tspan x="340.0" y="130.8">25</tspan><tspan x="340.0" y="137.8">mM</tspan></text>
<text x="229.7" y="16.8" font-size="12.3" font-weight="bold" fill="#fff">c</text>
</g>
<g id="panel-d">
<rect x="226.0" y="190.3" width="170.0" height="155.3" fill="#000"/>
<rect x="251.32" y="248.09" width="3.62" height="4.31" fill="#f28862"/>
<rect x="244.09" y="251.70" width="4.32" height="4.31" fill="#f1ae78"/>
<rect x="247.70" y="251.70" width="4.32" height="4.31" fill="#f1ae78"/>
<rect x="251.32" y="251.70" width="4.32" height="4.31" fill="#f28a63"/>
<rect x="254.94" y="251.70" width="4.32" height="4.31" fill="#f29267"/>
<rect x="258.55" y="251.70" width="3.62" height="4.31" fill="#f2996b"/>
<rect x="244.09" y="255.31" width="4.32" height="4.31" fill="#f0b57d"/>
<rect x="247.70" y="255.31" width="4.32" height="4.31" fill="#f1bd83"/>
<rect x="251.32" y="255.31" width="4.32" height="4.31" fill="#f28c64"/>
<rect x="254.94" y="255.31" width="4.32" height="4.31" fill="#f29669"/>
<rect x="258.55" y="255.31" width="3.62" height="4.31" fill="#f28e65"/>
<rect x="240.47" y="258.92" width="4.32" height="3.61" fill="#f2996b"/>
<rect x="244.09" y="258.92" width="4.32" height="4.31" fill="#f1a874"/>
<rect x="247.70" y="258.92" width="4.32" height="4.31" fill="#f2a572"/>
<rect x="251.32" y="258.92" width="4.32" height="4.31" fill="#f28a63"/>
<rect x="254.94" y="258.92" width="4.32" height="4.31" fill="#f2a16f"/>
<rect x="258.55" y="258.92" width="4.32" height="4.31" fill="#f28a63"/>
<rect x="262.17" y="258.92" width="3.62" height="3.61" fill="#f28a63"/>
<rect x="244.09" y="262.53" width="4.32" height="4.31" fill="#f2a370"/>
<rect x="247.70" y="262.53" width="4.32" height="4.31" fill="#f2a370"/>
<rect x="251.32" y="262.53" width="4.32" height="4.31" fill="#f28a63"/>
<rect x="254.94" y="262.53" width="4.32" height="4.31" fill="#f29f6e"/>
<rect x="258.55" y="262.53" width="3.62" height="4.31" fill="#f29d6d"/>
<rect x="244.09" y="266.14" width="4.32" height="3.61" fill="#f1ac77"/>
<rect x="247.70" y="266.14" width="4.32" height="3.61" fill="#f2a673"/>
<rect x="251.32" y="266.14" width="4.32" height="4.31" fill="#f29267"/>
<rect x="254.94" y="266.14" width="4.32" height="3.61" fill="#f2996b"/>
<rect x="258.55" y="266.14" width="3.62" height="3.61" fill="#f2a16f"/>
<rect x="251.32" y="269.76" width="3.62" height="3.61" fill="#f28c64"/>
<text x="238.3" y="256.1" font-size="9.4" fill="#fff" text-anchor="middle">A</text>
<text font-size="6.1" font-weight="bold" fill="#fff" text-anchor="middle"><tspan x="271.2" y="252.1">pH</tspan><tspan x="271.2" y="259.1">5.0</tspan></text>
<rect x="298.34" y="197.52" width="3.62" height="4.31" fill="#e75561"/>
<rect x="291.11" y="201.13" width="4.32" height="4.31" fill="#ee675c"/>
<rect x="294.72" y="201.13" width="4.32" height="4.31" fill="#ee675c"/>
<rect x="298.34" y="201.13" width="4.32" height="4.31" fill="#e9595f"/>
<rect x="301.96" y="201.13" width="4.32" height="4.31" fill="#ee675c"/>
<rect x="305.57" y="201.13" width="3.62" height="4.31" fill="#ed645c"/>
<rect x="291.11" y="204.75" width="4.32" height="4.31" fill="#ed615d"/>
<rect x="294.72" y="204.75" width="4.32" height="4.31" fill="#ef6c5c"/>
<rect x="298.34" y="204.75" width="4.32" height="4.31" fill="#e45163"/>
<rect x="301.96" y="204.75" width="4.32" height="4.31" fill="#ee665c"/>
<rect x="305.57" y="204.75" width="3.62" height="4.31" fill="#eb5e5e"/>
<rect x="287.49" y="208.36" width="4.32" height="3.61" fill="#ef695c"/>
<rect x="291.11" y="208.36" width="4.32" height="4.31" fill="#f1745d"/>
<rect x="294.72" y="208.36" width="4.32" height="4.31" fill="#ee665c"/>
<rect x="298.34" y="208.36" width="4.32" height="4.31" fill="#e75561"/>
<rect x="301.96" y="208.36" width="4.32" height="4.31" fill="#f06e5c"/>
<rect x="305.57" y="208.36" width="4.32" height="4.31" fill="#eb5e5e"/>
<rect x="309.19" y="208.36" width="3.62" height="3.61" fill="#ee675c"/>
<rect x="291.11" y="211.97" width="4.32" height="4.31" fill="#ef6b5c"/>
<rect x="294.72" y="211.97" width="4.32" height="4.31" fill="#ef6b5c"/>
<rect x="298.34" y="211.97" width="4.32" height="4.31" fill="#e55263"/>
<rect x="301.96" y="211.97" width="4.32" height="4.31" fill="#eb5c5e"/>
<rect x="305.57" y="211.97" width="3.62" height="4.31" fill="#ed625d"/>
<rect x="291.11" y="215.58" width="4.32" height="3.61" fill="#f0705c"/>
<rect x="294.72" y="215.58" width="4.32" height="3.61" fill="#ee665c"/>
<rect x="298.34" y="215.58" width="4.32" height="4.31" fill="#e95860"/>
<rect x="301.96" y="215.58" width="4.32" height="3.61" fill="#ee675c"/>
<rect x="305.57" y="215.58" width="3.62" height="3.61" fill="#eb5e5e"/>
<rect x="298.34" y="219.19" width="3.62" height="3.61" fill="#e65462"/>
<text x="285.3" y="205.6" font-size="9.4" fill="#fff" text-anchor="middle">B</text>
<text font-size="6.1" font-weight="bold" fill="#fff" text-anchor="middle"><tspan x="318.2" y="201.6">pH</tspan><tspan x="318.2" y="208.6">5.0</tspan></text>
<rect x="363.45" y="226.42" width="3.62" height="4.31" fill="#d24271"/>
<rect x="356.21" y="230.03" width="4.32" height="4.31" fill="#e45064"/>
<rect x="359.83" y="230.03" width="4.32" height="4.31" fill="#e24f65"/>
<rect x="363.45" y="230.03" width="4.32" height="4.31" fill="#d34370"/>
<rect x="367.06" y="230.03" width="4.32" height="4.31" fill="#e55263"/>
<rect x="370.68" y="230.03" width="3.62" height="4.31" fill="#db486b"/>
<rect x="356.21" y="233.64" width="4.32" height="4.31" fill="#e65462"/>
<rect x="359.83" y="233.64" width="4.32" height="4.31" fill="#e45163"/>
<rect x="363.45" y="233.64" width="4.32" height="4.31" fill="#d8466d"/>
<rect x="367.06" y="233.64" width="4.32" height="4.31" fill="#dc496a"/>
<rect x="370.68" y="233.64" width="3.62" height="4.31" fill="#dc496a"/>
<rect x="352.60" y="237.25" width="4.32" height="3.61" fill="#df4c67"/>
<rect x="356.21" y="237.25" width="4.32" height="4.31" fill="#de4b68"/>
<rect x="359.83" y="237.25" width="4.32" height="4.31" fill="#e85661"/>
<rect x="363.45" y="237.25" width="4.32" height="4.31" fill="#d5446f"/>
<rect x="367.06" y="237.25" width="4.32" height="4.31" fill="#da476c"/>
<rect x="370.68" y="237.25" width="4.32" height="4.31" fill="#e45163"/>
<rect x="374.30" y="237.25" width="3.62" height="3.61" fill="#d8466d"/>
<rect x="356.21" y="240.86" width="4.32" height="4.31" fill="#e75561"/>
<rect x="359.83" y="240.86" width="4.32" height="4.31" fill="#df4c67"/>
<rect x="363.45" y="240.86" width="4.32" height="4.31" fill="#df4c67"/>
<rect x="367.06" y="240.86" width="4.32" height="4.31" fill="#db486b"/>
<rect x="370.68" y="240.86" width="3.62" height="4.31" fill="#db486b"/>
<rect x="356.21" y="244.47" width="4.32" height="3.61" fill="#e45163"/>
<rect x="359.83" y="244.47" width="4.32" height="3.61" fill="#de4b68"/>
<rect x="363.45" y="244.47" width="4.32" height="4.31" fill="#db486b"/>
<rect x="367.06" y="244.47" width="4.32" height="3.61" fill="#e45064"/>
<rect x="370.68" y="244.47" width="3.62" height="3.61" fill="#dd4969"/>
<rect x="363.45" y="248.09" width="3.62" height="3.61" fill="#d5446f"/>
<text x="350.5" y="234.5" font-size="9.4" fill="#fff" text-anchor="middle">C</text>
<text font-size="6.1" font-weight="bold" fill="#fff" text-anchor="middle"><tspan x="383.4" y="230.5">pH</tspan><tspan x="383.4" y="237.5">5.0</tspan></text>
<rect x="367.06" y="262.53" width="3.62" height="4.31" fill="#3f0f73"/>
<rect x="359.83" y="266.14" width="4.32" height="4.31" fill="#451078"/>
<rect x="363.45" y="266.14" width="4.32" height="4.31" fill="#451078"/>
<rect x="367.06" y="266.14" width="4.32" height="4.31" fill="#3f0f73"/>
<rect x="370.68" y="266.14" width="4.32" height="4.31" fill="#420f75"/>
<rect x="374.30" y="266.14" width="3.62" height="4.31" fill="#400f74"/>
<rect x="359.83" y="269.76" width="4.32" height="4.31" fill="#451078"/>
<rect x="363.45" y="269.76" width="4.32" height="4.31" fill="#471078"/>
<rect x="367.06" y="269.76" width="4.32" height="4.31" fill="#3f0f73"/>
<rect x="370.68" y="269.76" width="4.32" height="4.31" fill="#471078"/>
<rect x="374.30" y="269.76" width="3.62" height="4.31" fill="#440f77"/>
<rect x="356.21" y="273.37" width="4.32" height="3.61" fill="#451078"/>
<rect x="359.83" y="273.37" width="4.32" height="4.31" fill="#440f77"/>
<rect x="363.45" y="273.37" width="4.32" height="4.31" fill="#440f77"/>
<rect x="367.06" y="273.37" width="4.32" height="4.31" fill="#3f0f73"/>
<rect x="370.68" y="273.37" width="4.32" height="4.31" fill="#420f75"/>
<rect x="374.30" y="273.37" width="4.32" height="4.31" fill="#440f77"/>
<rect x="377.91" y="273.37" width="3.62" height="3.61" fill="#451078"/>
<rect x="359.83" y="276.98" width="4.32" height="4.31" fill="#491079"/>
<rect x="363.45" y="276.98" width="4.32" height="4.31" fill="#491079"/>
<rect x="367.06" y="276.98" width="4.32" height="4.31" fill="#3d0f72"/>
<rect x="370.68" y="276.98" width="4.32" height="4.31" fill="#451078"/>
<rect x="374.30" y="276.98" width="3.62" height="4.31" fill="#440f77"/>
<rect x="359.83" y="280.59" width="4.32" height="3.61" fill="#471078"/>
<rect x="363.45" y="280.59" width="4.32" height="3.61" fill="#451078"/>
<rect x="367.06" y="280.59" width="4.32" height="4.31" fill="#420f75"/>
<rect x="370.68" y="280.59" width="4.32" height="3.61" fill="#440f77"/>
<rect x="374.30" y="280.59" width="3.62" height="3.61" fill="#451078"/>
<rect x="367.06" y="284.20" width="3.62" height="3.61" fill="#420f75"/>
<text x="354.1" y="270.6" font-size="9.4" fill="#fff" text-anchor="middle">D</text>
<text font-size="6.1" font-weight="bold" fill="#fff" text-anchor="middle"><tspan x="387.0" y="266.6">pH</tspan><tspan x="387.0" y="273.6">4.0</tspan></text>
<rect x="258.55" y="284.20" width="3.62" height="4.31" fill="#681c82"/>
<rect x="251.32" y="287.81" width="4.32" height="4.31" fill="#6d1d82"/>
<rect x="254.94" y="287.81" width="4.32" height="4.31" fill="#732083"/>
<rect x="258.55" y="287.81" width="4.32" height="4.31" fill="#651a81"/>
<rect x="262.17" y="287.81" width="4.32" height="4.31" fill="#6d1d82"/>
<rect x="265.79" y="287.81" width="3.62" height="4.31" fill="#701f82"/>
<rect x="251.32" y="291.43" width="4.32" height="4.31" fill="#701f82"/>
<rect x="254.94" y="291.43" width="4.32" height="4.31" fill="#6e1e82"/>
<rect x="258.55" y="291.43" width="4.32" height="4.31" fill="#671b81"/>
<rect x="262.17" y="291.43" width="4.32" height="4.31" fill="#6a1c82"/>
<rect x="265.79" y="291.43" width="3.62" height="4.31" fill="#6d1d82"/>
<rect x="247.70" y="295.04" width="4.32" height="3.61" fill="#6d1d82"/>
<rect x="251.32" y="295.04" width="4.32" height="4.31" fill="#721f82"/>
<rect x="254.94" y="295.04" width="4.32" height="4.31" fill="#732083"/>
<rect x="258.55" y="295.04" width="4.32" height="4.31" fill="#671b81"/>
<rect x="262.17" y="295.04" width="4.32" height="4.31" fill="#6a1c82"/>
<rect x="265.79" y="295.04" width="4.32" height="4.31" fill="#6a1c82"/>
<rect x="269.40" y="295.04" width="3.62" height="3.61" fill="#6a1c82"/>
<rect x="251.32" y="298.65" width="4.32" height="4.31" fill="#6d1d82"/>
<rect x="254.94" y="298.65" width="4.32" height="4.31" fill="#732083"/>
<rect x="258.55" y="298.65" width="4.32" height="4.31" fill="#6a1c82"/>
<rect x="262.17" y="298.65" width="4.32" height="4.31" fill="#671b81"/>
<rect x="265.79" y="298.65" width="3.62" height="4.31" fill="#681c82"/>
<rect x="251.32" y="302.26" width="4.32" height="3.61" fill="#6d1d82"/>
<rect x="254.94" y="302.26" width="4.32" height="3.61" fill="#721f82"/>
<rect x="258.55" y="302.26" width="4.32" height="4.31" fill="#651a81"/>
<rect x="262.17" y="302.26" width="4.32" height="3.61" fill="#6b1d82"/>
<rect x="265.79" y="302.26" width="3.62" height="3.61" fill="#681c82"/>
<rect x="258.55" y="305.87" width="3.62" height="3.61" fill="#671b81"/>
<text x="245.6" y="292.2" font-size="9.4" fill="#fff" text-anchor="middle">F</text>
<text font-size="6.1" font-weight="bold" fill="#fff" text-anchor="middle"><tspan x="278.5" y="288.2">pH</tspan><tspan x="278.5" y="295.2">4.5</tspan></text>
<rect x="320.04" y="313.10" width="3.62" height="4.31" fill="#dc496a"/>
<rect x="312.81" y="316.71" width="4.32" height="4.31" fill="#e75561"/>
<rect x="316.43" y="316.71" width="4.32" height="4.31" fill="#e9595f"/>
<rect x="320.04" y="316.71" width="4.32" height="4.31" fill="#dc496a"/>
<rect x="323.66" y="316.71" width="4.32" height="4.31" fill="#e75561"/>
<rect x="327.28" y="316.71" width="3.62" height="4.31" fill="#e55263"/>
<rect x="312.81" y="320.32" width="4.32" height="4.31" fill="#e95860"/>
<rect x="316.43" y="320.32" width="4.32" height="4.31" fill="#e95860"/>
<rect x="320.04" y="320.32" width="4.32" height="4.31" fill="#de4a68"/>
<rect x="323.66" y="320.32" width="4.32" height="4.31" fill="#e85661"/>
<rect x="327.28" y="320.32" width="3.62" height="4.31" fill="#df4b67"/>
<rect x="309.19" y="323.93" width="4.32" height="3.61" fill="#ed615d"/>
<rect x="312.81" y="323.93" width="4.32" height="4.31" fill="#e75561"/>
<rect x="316.43" y="323.93" width="4.32" height="4.31" fill="#e95860"/>
<rect x="320.04" y="323.93" width="4.32" height="4.31" fill="#dd4969"/>
<rect x="323.66" y="323.93" width="4.32" height="4.31" fill="#e55263"/>
<rect x="327.28" y="323.93" width="4.32" height="4.31" fill="#e24e66"/>
<rect x="330.89" y="323.93" width="3.62" height="3.61" fill="#e24f65"/>
<rect x="312.81" y="327.54" width="4.32" height="4.31" fill="#ea5b5f"/>
<rect x="316.43" y="327.54" width="4.32" height="4.31" fill="#eb5e5e"/>
<rect x="320.04" y="327.54" width="4.32" height="4.31" fill="#dd4a69"/>
<rect x="323.66" y="327.54" width="4.32" height="4.31" fill="#e75561"/>
<rect x="327.28" y="327.54" width="3.62" height="4.31" fill="#e65462"/>
<rect x="312.81" y="331.15" width="4.32" height="3.61" fill="#e9595f"/>
<rect x="316.43" y="331.15" width="4.32" height="3.61" fill="#e9595f"/>
<rect x="320.04" y="331.15" width="4.32" height="4.31" fill="#df4b67"/>
<rect x="323.66" y="331.15" width="4.32" height="3.61" fill="#e24e66"/>
<rect x="327.28" y="331.15" width="3.62" height="3.61" fill="#e35064"/>
<rect x="320.04" y="334.77" width="3.62" height="3.61" fill="#e04d67"/>
<text x="307.1" y="321.1" font-size="9.4" fill="#fff" text-anchor="middle">E</text>
<text font-size="6.1" font-weight="bold" fill="#fff" text-anchor="middle"><tspan x="340.0" y="317.1">pH</tspan><tspan x="340.0" y="324.1">5.0</tspan></text>
<text x="229.7" y="203.1" font-size="12.3" font-weight="bold" fill="#fff">d</text>
</g>
<defs><linearGradient id="grad-a" x1="0" y1="0" x2="0" y2="1"><stop offset="0.0000" stop-color="#ebf643"/><stop offset="0.0312" stop-color="#dff534"/><stop offset="0.0625" stop-color="#cff42f"/><stop offset="0.0938" stop-color="#bff334"/><stop offset="0.1250" stop-color="#aff13d"/><stop offset="0.1562" stop-color="#9eef46"/><stop offset="0.1875" stop-color="#90eb52"/><stop offset="0.2188" stop-color="#83e65e"/><stop offset="0.2500" stop-color="#77e169"/><stop offset="0.2812" stop-color="#6ddb72"/><stop offset="0.3125" stop-color="#64d57a"/><stop offset="0.3438" stop-color="#5cce81"/><stop offset="0.3750" stop-color="#52c485"/><stop offset="0.4062" stop-color="#4aba88"/><stop offset="0.4375" stop-color="#47b08b"/><stop offset="0.4688" stop-color="#46a78c"/><stop offset="0.5000" stop-color="#489d8c"/><stop offset="0.5312" stop-color="#46948f"/><stop offset="0.5625" stop-color="#448c90"/><stop offset="0.5938" stop-color="#428492"/><stop offset="0.6250" stop-color="#417b93"/><stop offset="0.6562" stop-color="#407394"/><stop offset="0.6875" stop-color="#406a93"/><stop offset="0.7188" stop-color="#416091"/><stop offset="0.7500" stop-color="#42578f"/><stop offset="0.7812" stop-color="#434d8c"/><stop offset="0.8125" stop-color="#444287"/><stop offset="0.8438" stop-color="#453882"/><stop offset="0.8750" stop-color="#472e7d"/><stop offset="0.9062" stop-color="#482575"/><stop offset="0.9375" stop-color="#481a6c"/><stop offset="0.9688" stop-color="#470f62"/><stop offset="1.0000" stop-color="#440456"/></linearGradient></defs>
<rect x="179.3" y="4.0" width="9.2" height="155.3" fill="url(#grad-a)" stroke="#777" stroke-width="0.5"/>
<line x1="188.5" y1="159.30" x2="191.1" y2="159.30" stroke="#555" stroke-width="0.7"/>
<text x="193.0" y="162.20" font-size="7.2" fill="#141414">0</text>
<line x1="188.5" y1="133.42" x2="191.1" y2="133.42" stroke="#555" stroke-width="0.7"/>
<text x="193.0" y="136.32" font-size="7.2" fill="#141414">20</text>
<line x1="188.5" y1="107.53" x2="191.1" y2="107.53" stroke="#555" stroke-width="0.7"/>
<text x="193.0" y="110.43" font-size="7.2" fill="#141414">40</text>
<line x1="188.5" y1="81.65" x2="191.1" y2="81.65" stroke="#555" stroke-width="0.7"/>
<text x="193.0" y="84.55" font-size="7.2" fill="#141414">60</text>
<line x1="188.5" y1="55.77" x2="191.1" y2="55.77" stroke="#555" stroke-width="0.7"/>
<text x="193.0" y="58.67" font-size="7.2" fill="#141414">80</text>
<line x1="188.5" y1="29.88" x2="191.1" y2="29.88" stroke="#555" stroke-width="0.7"/>
<text x="193.0" y="32.78" font-size="7.2" fill="#141414">100</text>
<line x1="188.5" y1="4.00" x2="191.1" y2="4.00" stroke="#555" stroke-width="0.7"/>
<text x="193.0" y="6.90" font-size="7.2" fill="#141414">120</text>
<text transform="translate(216.3,81.8) rotate(-90)" font-size="8.6" fill="#141414" text-anchor="middle">[L-arg] (mM)</text>
<defs><linearGradient id="grad-b" x1="0" y1="0" x2="0" y2="1"><stop offset="0.0000" stop-color="#f2ffbc"/><stop offset="0.0312" stop-color="#f1f1af"/><stop offset="0.0625" stop-color="#f1e1a1"/><stop offset="0.0938" stop-color="#f1d193"/><stop offset="0.1250" stop-color="#f1c186"/><stop offset="0.1562" stop-color="#f1b27b"/><stop offset="0.1875" stop-color="#f2a370"/><stop offset="0.2188" stop-color="#f29468"/><stop offset="0.2500" stop-color="#f28561"/><stop offset="0.2812" stop-color="#f1755d"/><stop offset="0.3125" stop-color="#ef675c"/><stop offset="0.3438" stop-color="#ea5b5f"/><stop offset="0.3750" stop-color="#e45064"/><stop offset="0.4062" stop-color="#db486b"/><stop offset="0.4375" stop-color="#d04171"/><stop offset="0.4688" stop-color="#c43c77"/><stop offset="0.5000" stop-color="#b7377b"/><stop offset="0.5312" stop-color="#aa337e"/><stop offset="0.5625" stop-color="#9c2e81"/><stop offset="0.5938" stop-color="#902a82"/><stop offset="0.6250" stop-color="#832683"/><stop offset="0.6562" stop-color="#762183"/><stop offset="0.6875" stop-color="#6a1c82"/><stop offset="0.7188" stop-color="#5d1780"/><stop offset="0.7500" stop-color="#51127d"/><stop offset="0.7812" stop-color="#440f77"/><stop offset="0.8125" stop-color="#36106b"/><stop offset="0.8438" stop-color="#29115a"/><stop offset="0.8750" stop-color="#1d1147"/><stop offset="0.9062" stop-color="#130d34"/><stop offset="0.9375" stop-color="#0a0822"/><stop offset="0.9688" stop-color="#030312"/><stop offset="1.0000" stop-color="#000004"/></linearGradient></defs>
<rect x="179.3" y="190.3" width="9.2" height="155.3" fill="url(#grad-b)" stroke="#777" stroke-width="0.5"/>
<line x1="188.5" y1="345.60" x2="191.1" y2="345.60" stroke="#555" stroke-width="0.7"/>
<text x="193.0" y="348.50" font-size="7.2" fill="#141414">0</text>
<line x1="188.5" y1="323.41" x2="191.1" y2="323.41" stroke="#555" stroke-width="0.7"/>
<text x="193.0" y="326.31" font-size="7.2" fill="#141414">100</text>
<line x1="188.5" y1="301.23" x2="191.1" y2="301.23" stroke="#555" stroke-width="0.7"/>
<text x="193.0" y="304.13" font-size="7.2" fill="#141414">200</text>
<line x1="188.5" y1="279.04" x2="191.1" y2="279.04" stroke="#555" stroke-width="0.7"/>
<text x="193.0" y="281.94" font-size="7.2" fill="#141414">300</text>
<line x1="188.5" y1="256.86" x2="191.1" y2="256.86" stroke="#555" stroke-width="0.7"/>
<text x="193.0" y="259.76" font-size="7.2" fill="#141414">400</text>
<line x1="188.5" y1="234.67" x2="191.1" y2="234.67" stroke="#555" stroke-width="0.7"/>
<text x="193.0" y="237.57" font-size="7.2" fill="#141414">500</text>
<line x1="188.5" y1="212.49" x2="191.1" y2="212.49" stroke="#555" stroke-width="0.7"/>
<text x="193.0" y="215.39" font-size="7.2" fill="#141414">600</text>
<line x1="188.5" y1="190.30" x2="191.1" y2="190.30" stroke="#555" stroke-width="0.7"/>
<text x="193.0" y="193.20" font-size="7.2" fill="#141414">700</text>
<text transform="translate(216.3,268.0) rotate(-90)" font-size="8.6" fill="#141414" text-anchor="middle">k<tspan font-size="76%" dy="0.25em" font-style="italic">sw</tspan><tspan dy="-0.25em"> (s</tspan><tspan font-size="76%" dy="-0.45em">−1</tspan><tspan dy="0.45em">)</tspan></text>
<g id="axes-e">
<rect x="444.0" y="4.0" width="239.5" height="155.5" fill="#fff"/>
<line x1="444.0" y1="159.50" x2="683.5" y2="159.50" stroke="#c6c6c6" stroke-width="1"/>
<line x1="444.0" y1="133.58" x2="683.5" y2="133.58" stroke="#c6c6c6" stroke-width="1"/>
<line x1="444.0" y1="107.67" x2="683.5" y2="107.67" stroke="#c6c6c6" stroke-width="1"/>
<line x1="444.0" y1="81.75" x2="683.5" y2="81.75" stroke="#c6c6c6" stroke-width="1"/>
<line x1="444.0" y1="55.83" x2="683.5" y2="55.83" stroke="#c6c6c6" stroke-width="1"/>
<line x1="444.0" y1="29.92" x2="683.5" y2="29.92" stroke="#c6c6c6" stroke-width="1"/>
<line x1="444.0" y1="4.00" x2="683.5" y2="4.00" stroke="#c6c6c6" stroke-width="1"/>
<line x1="466.50" y1="4.0" x2="466.50" y2="159.5" stroke="#c6c6c6" stroke-width="1"/>
<line x1="505.40" y1="4.0" x2="505.40" y2="159.5" stroke="#c6c6c6" stroke-width="1"/>
<line x1="544.30" y1="4.0" x2="544.30" y2="159.5" stroke="#c6c6c6" stroke-width="1"/>
<line x1="583.20" y1="4.0" x2="583.20" y2="159.5" stroke="#c6c6c6" stroke-width="1"/>
<line x1="622.10" y1="4.0" x2="622.10" y2="159.5" stroke="#c6c6c6" stroke-width="1"/>
<line x1="661.00" y1="4.0" x2="661.00" y2="159.5" stroke="#c6c6c6" stroke-width="1"/>
<polygon points="466.50,25.22 470.97,28.46 469.26,33.72 463.74,33.72 462.03,28.46" fill="#a1c9f4" stroke="#2b2b2b" stroke-width="0.8" stroke-linejoin="miter"/>
<polygon points="505.40,57.61 509.87,60.86 508.16,66.11 502.64,66.11 500.93,60.86" fill="#a1c9f4" stroke="#2b2b2b" stroke-width="0.8" stroke-linejoin="miter"/>
<polygon points="544.30,90.01 548.77,93.26 547.06,98.51 541.54,98.51 539.83,93.26" fill="#a1c9f4" stroke="#2b2b2b" stroke-width="0.8" stroke-linejoin="miter"/>
<polygon points="583.20,90.01 587.67,93.26 585.96,98.51 580.44,98.51 578.73,93.26" fill="#a1c9f4" stroke="#2b2b2b" stroke-width="0.8" stroke-linejoin="miter"/>
<polygon points="622.10,122.40 626.57,125.65 624.86,130.91 619.34,130.91 617.63,125.65" fill="#a1c9f4" stroke="#2b2b2b" stroke-width="0.8" stroke-linejoin="miter"/>
<polygon points="661.00,90.01 665.47,93.26 663.76,98.51 658.24,98.51 656.53,93.26" fill="#a1c9f4" stroke="#2b2b2b" stroke-width="0.8" stroke-linejoin="miter"/>
<clipPath id="vc1"><path d="M458.60,23.30 L459.10,28.00 L460.50,30.60 L460.70,48.20 L459.80,51.00 L458.60,55.50 L458.60,55.50 L457.40,51.00 L456.50,48.20 L456.70,30.60 L458.10,28.00 L458.60,23.30Z"/></clipPath>
<path d="M458.60,23.30 L459.10,28.00 L460.50,30.60 L460.70,48.20 L459.80,51.00 L458.60,55.50 L458.60,55.50 L457.40,51.00 L456.50,48.20 L456.70,30.60 L458.10,28.00 L458.60,23.30Z" fill="#a099b6"/>
<g clip-path="url(#vc1)" shape-rendering="crispEdges" fill="#d0bfff"><path d="M457,29h1v1h-1zM459,29h1v1h-1zM457,31h1v1h-1zM459,31h1v1h-1zM457,33h1v1h-1zM459,33h1v1h-1zM457,35h1v1h-1zM459,35h1v1h-1zM457,37h1v1h-1zM459,37h1v1h-1zM457,39h1v1h-1zM459,39h1v1h-1zM457,41h1v1h-1zM459,41h1v1h-1zM457,43h1v1h-1zM459,43h1v1h-1zM457,45h1v1h-1zM459,45h1v1h-1zM457,47h1v1h-1zM459,47h1v1h-1zM457,49h1v1h-1zM459,49h1v1h-1zM459,51h1v1h-1z" fill-opacity="0.9"/><path d="M459,32h1v1h-1zM458,35h1v1h-1zM457,36h1v1h-1zM460,37h1v1h-1zM457,38h1v1h-1zM457,40h1v1h-1zM458,41h1v1h-1zM457,42h1v1h-1zM459,42h1v1h-1zM460,43h1v1h-1zM457,44h1v1h-1zM460,47h1v1h-1zM458,53h1v1h-1z" fill-opacity="0.38"/></g>
<path d="M458.60,23.30 L459.10,28.00 L460.50,30.60 L460.70,48.20 L459.80,51.00 L458.60,55.50 L458.60,55.50 L457.40,51.00 L456.50,48.20 L456.70,30.60 L458.10,28.00 L458.60,23.30Z" fill="none" stroke="#6a6a6a" stroke-width="1" stroke-linejoin="round"/>
<line x1="453.90" y1="33.5" x2="463.20" y2="33.5" stroke="#7a7a7a" stroke-width="0.6"/>
<line x1="453.90" y1="40.5" x2="460.61" y2="40.5" stroke="#7a7a7a" stroke-width="0.6"/>
<line x1="453.90" y1="46.5" x2="462.80" y2="46.5" stroke="#7a7a7a" stroke-width="0.6"/>
<line x1="456.62" y1="37.5" x2="462.20" y2="37.5" stroke="#7a7a7a" stroke-width="0.6"/>
<clipPath id="vc2"><path d="M474.40,29.80 L474.90,34.00 L476.30,38.00 L476.90,50.00 L476.70,53.50 L475.40,57.00 L474.40,62.90 L474.40,62.90 L473.40,57.00 L472.10,53.50 L471.90,50.00 L472.50,38.00 L473.90,34.00 L474.40,29.80Z"/></clipPath>
<path d="M474.40,29.80 L474.90,34.00 L476.30,38.00 L476.90,50.00 L476.70,53.50 L475.40,57.00 L474.40,62.90 L474.40,62.90 L473.40,57.00 L472.10,53.50 L471.90,50.00 L472.50,38.00 L473.90,34.00 L474.40,29.80Z" fill="#788c7e"/>
<g clip-path="url(#vc2)" shape-rendering="crispEdges" fill="#96e8a8"><path d="M474,38h1v1h-1zM472,39h1v1h-1zM473,39h1v1h-1zM474,39h1v1h-1zM473,42h1v1h-1zM474,42h1v1h-1zM473,43h1v1h-1zM474,43h1v1h-1zM476,44h1v1h-1zM473,46h1v1h-1zM474,46h1v1h-1zM473,47h1v1h-1zM472,48h1v1h-1zM472,49h1v1h-1zM473,49h1v1h-1zM474,49h1v1h-1zM472,50h1v1h-1zM472,51h1v1h-1zM472,52h1v1h-1zM474,52h1v1h-1zM475,52h1v1h-1zM476,52h1v1h-1zM473,53h1v1h-1zM475,53h1v1h-1zM476,53h1v1h-1zM473,54h1v1h-1zM474,54h1v1h-1zM473,55h1v1h-1zM474,55h1v1h-1zM473,56h1v1h-1zM475,56h1v1h-1zM473,57h1v1h-1zM474,57h1v1h-1z" fill-opacity="0.9"/><path d="M475,36h1v1h-1zM473,38h1v1h-1zM475,38h1v1h-1zM475,39h1v1h-1zM472,42h1v1h-1zM472,43h1v1h-1zM476,45h1v1h-1zM474,47h1v1h-1zM475,48h1v1h-1zM475,50h1v1h-1zM476,50h1v1h-1zM473,52h1v1h-1zM472,53h1v1h-1zM474,53h1v1h-1zM472,54h1v1h-1zM474,56h1v1h-1zM474,58h1v1h-1zM474,59h1v1h-1z" fill-opacity="0.38"/></g>
<path d="M474.40,29.80 L474.90,34.00 L476.30,38.00 L476.90,50.00 L476.70,53.50 L475.40,57.00 L474.40,62.90 L474.40,62.90 L473.40,57.00 L472.10,53.50 L471.90,50.00 L472.50,38.00 L473.90,34.00 L474.40,29.80Z" fill="none" stroke="#6a6a6a" stroke-width="1" stroke-linejoin="round"/>
<line x1="469.70" y1="38.5" x2="478.70" y2="38.5" stroke="#7a7a7a" stroke-width="0.6"/>
<line x1="470.50" y1="46.5" x2="476.73" y2="46.5" stroke="#7a7a7a" stroke-width="0.6"/>
<line x1="469.70" y1="50.5" x2="478.70" y2="50.5" stroke="#7a7a7a" stroke-width="0.6"/>
<line x1="470.10" y1="52.5" x2="478.70" y2="52.5" stroke="#7a7a7a" stroke-width="0.6"/>
<clipPath id="vc3"><path d="M497.50,41.20 L498.00,46.00 L499.40,49.00 L499.60,71.40 L498.50,74.00 L497.50,78.70 L497.50,78.70 L496.50,74.00 L495.40,71.40 L495.60,49.00 L497.00,46.00 L497.50,41.20Z"/></clipPath>
<path d="M497.50,41.20 L498.00,46.00 L499.40,49.00 L499.60,71.40 L498.50,74.00 L497.50,78.70 L497.50,78.70 L496.50,74.00 L495.40,71.40 L495.60,49.00 L497.00,46.00 L497.50,41.20Z" fill="#a099b6"/>
<g clip-path="url(#vc3)" shape-rendering="crispEdges" fill="#d0bfff"><path d="M496,47h1v1h-1zM498,47h1v1h-1zM496,49h1v1h-1zM498,49h1v1h-1zM496,51h1v1h-1zM498,51h1v1h-1zM496,53h1v1h-1zM498,53h1v1h-1zM496,55h1v1h-1zM498,55h1v1h-1zM496,57h1v1h-1zM498,57h1v1h-1zM496,59h1v1h-1zM498,59h1v1h-1zM496,61h1v1h-1zM498,61h1v1h-1zM496,63h1v1h-1zM498,63h1v1h-1zM496,65h1v1h-1zM498,65h1v1h-1zM496,67h1v1h-1zM498,67h1v1h-1zM496,69h1v1h-1zM498,69h1v1h-1zM496,71h1v1h-1zM498,71h1v1h-1zM496,73h1v1h-1zM498,73h1v1h-1z" fill-opacity="0.9"/><path d="M498,50h1v1h-1zM497,55h1v1h-1zM495,61h1v1h-1zM497,61h1v1h-1zM498,62h1v1h-1zM499,63h1v1h-1zM498,64h1v1h-1zM495,65h1v1h-1zM497,65h1v1h-1zM496,66h1v1h-1zM498,66h1v1h-1zM495,67h1v1h-1zM495,69h1v1h-1zM499,69h1v1h-1zM497,71h1v1h-1zM498,72h1v1h-1zM497,75h1v1h-1z" fill-opacity="0.38"/></g>
<path d="M497.50,41.20 L498.00,46.00 L499.40,49.00 L499.60,71.40 L498.50,74.00 L497.50,78.70 L497.50,78.70 L496.50,74.00 L495.40,71.40 L495.60,49.00 L497.00,46.00 L497.50,41.20Z" fill="none" stroke="#6a6a6a" stroke-width="1" stroke-linejoin="round"/>
<line x1="493.70" y1="55.5" x2="499.46" y2="55.5" stroke="#7a7a7a" stroke-width="0.6"/>
<line x1="492.90" y1="66.5" x2="499.56" y2="66.5" stroke="#7a7a7a" stroke-width="0.6"/>
<line x1="492.90" y1="68.5" x2="501.70" y2="68.5" stroke="#7a7a7a" stroke-width="0.6"/>
<line x1="492.90" y1="69.5" x2="499.58" y2="69.5" stroke="#7a7a7a" stroke-width="0.6"/>
<line x1="493.30" y1="71.5" x2="499.60" y2="71.5" stroke="#7a7a7a" stroke-width="0.6"/>
<clipPath id="vc4"><path d="M513.30,49.30 L513.80,54.00 L515.20,57.00 L515.50,74.00 L514.30,77.00 L513.30,82.00 L513.30,82.00 L512.30,77.00 L511.10,74.00 L511.40,57.00 L512.80,54.00 L513.30,49.30Z"/></clipPath>
<path d="M513.30,49.30 L513.80,54.00 L515.20,57.00 L515.50,74.00 L514.30,77.00 L513.30,82.00 L513.30,82.00 L512.30,77.00 L511.10,74.00 L511.40,57.00 L512.80,54.00 L513.30,49.30Z" fill="#788c7e"/>
<g clip-path="url(#vc4)" shape-rendering="crispEdges" fill="#96e8a8"><path d="M512,55h1v1h-1zM513,55h1v1h-1zM514,60h1v1h-1zM514,61h1v1h-1zM512,62h1v1h-1zM511,64h1v1h-1zM514,64h1v1h-1zM514,65h1v1h-1zM514,66h1v1h-1zM514,68h1v1h-1zM514,69h1v1h-1zM511,70h1v1h-1zM513,70h1v1h-1zM514,70h1v1h-1zM511,71h1v1h-1zM512,71h1v1h-1zM513,71h1v1h-1zM514,71h1v1h-1zM513,72h1v1h-1zM512,73h1v1h-1zM513,73h1v1h-1zM511,74h1v1h-1zM512,77h1v1h-1zM513,77h1v1h-1z" fill-opacity="0.9"/><path d="M512,56h1v1h-1zM511,57h1v1h-1zM512,57h1v1h-1zM513,57h1v1h-1zM511,58h1v1h-1zM512,60h1v1h-1zM513,61h1v1h-1zM511,65h1v1h-1zM513,66h1v1h-1zM514,67h1v1h-1zM512,70h1v1h-1zM512,72h1v1h-1zM514,72h1v1h-1zM511,73h1v1h-1zM514,73h1v1h-1zM512,74h1v1h-1zM512,75h1v1h-1zM512,76h1v1h-1zM513,76h1v1h-1z" fill-opacity="0.38"/></g>
<path d="M513.30,49.30 L513.80,54.00 L515.20,57.00 L515.50,74.00 L514.30,77.00 L513.30,82.00 L513.30,82.00 L512.30,77.00 L511.10,74.00 L511.40,57.00 L512.80,54.00 L513.30,49.30Z" fill="none" stroke="#6a6a6a" stroke-width="1" stroke-linejoin="round"/>
<line x1="511.96" y1="55.5" x2="517.40" y2="55.5" stroke="#7a7a7a" stroke-width="0.6"/>
<line x1="511.29" y1="63.5" x2="517.40" y2="63.5" stroke="#7a7a7a" stroke-width="0.6"/>
<line x1="507.20" y1="73.5" x2="518.70" y2="73.5" stroke="#7a7a7a" stroke-width="0.6"/>
<line x1="508.30" y1="74.5" x2="517.70" y2="74.5" stroke="#7a7a7a" stroke-width="0.6"/>
<clipPath id="vc5"><path d="M536.40,79.00 L536.90,83.50 L540.40,90.00 L540.40,94.00 L537.20,98.50 L536.40,107.90 L536.40,107.90 L535.60,98.50 L532.40,94.00 L532.40,90.00 L535.90,83.50 L536.40,79.00Z"/></clipPath>
<path d="M536.40,79.00 L536.90,83.50 L540.40,90.00 L540.40,94.00 L537.20,98.50 L536.40,107.90 L536.40,107.90 L535.60,98.50 L532.40,94.00 L532.40,90.00 L535.90,83.50 L536.40,79.00Z" fill="#a099b6"/>
<g clip-path="url(#vc5)" shape-rendering="crispEdges" fill="#d0bfff"><path d="M535,85h1v1h-1zM537,85h1v1h-1zM535,87h1v1h-1zM537,87h1v1h-1zM533,89h1v1h-1zM535,89h1v1h-1zM537,89h1v1h-1zM539,89h1v1h-1zM533,91h1v1h-1zM535,91h1v1h-1zM537,91h1v1h-1zM539,91h1v1h-1zM533,93h1v1h-1zM535,93h1v1h-1zM537,93h1v1h-1zM539,93h1v1h-1zM533,95h1v1h-1zM535,95h1v1h-1zM537,95h1v1h-1zM535,97h1v1h-1zM537,97h1v1h-1z" fill-opacity="0.9"/><path d="M534,87h1v1h-1zM538,87h1v1h-1zM539,88h1v1h-1zM538,89h1v1h-1zM537,90h1v1h-1zM532,91h1v1h-1zM534,91h1v1h-1zM538,91h1v1h-1zM533,92h1v1h-1zM532,93h1v1h-1zM539,94h1v1h-1zM536,95h1v1h-1z" fill-opacity="0.38"/></g>
<path d="M536.40,79.00 L536.90,83.50 L540.40,90.00 L540.40,94.00 L537.20,98.50 L536.40,107.90 L536.40,107.90 L535.60,98.50 L532.40,94.00 L532.40,90.00 L535.90,83.50 L536.40,79.00Z" fill="none" stroke="#6a6a6a" stroke-width="1" stroke-linejoin="round"/>
<line x1="529.90" y1="90.5" x2="542.20" y2="90.5" stroke="#7a7a7a" stroke-width="0.6"/>
<line x1="529.90" y1="92.5" x2="540.40" y2="92.5" stroke="#7a7a7a" stroke-width="0.6"/>
<clipPath id="vc6"><path d="M552.20,83.00 L552.70,87.00 L556.20,93.50 L556.30,96.50 L553.00,103.00 L552.20,109.50 L552.20,109.50 L551.40,103.00 L548.10,96.50 L548.20,93.50 L551.70,87.00 L552.20,83.00Z"/></clipPath>
<path d="M552.20,83.00 L552.70,87.00 L556.20,93.50 L556.30,96.50 L553.00,103.00 L552.20,109.50 L552.20,109.50 L551.40,103.00 L548.10,96.50 L548.20,93.50 L551.70,87.00 L552.20,83.00Z" fill="#788c7e"/>
<g clip-path="url(#vc6)" shape-rendering="crispEdges" fill="#96e8a8"><path d="M553,90h1v1h-1zM554,90h1v1h-1zM549,91h1v1h-1zM554,91h1v1h-1zM553,92h1v1h-1zM548,93h1v1h-1zM552,93h1v1h-1zM553,93h1v1h-1zM548,94h1v1h-1zM550,94h1v1h-1zM550,95h1v1h-1zM551,96h1v1h-1zM550,97h1v1h-1zM551,97h1v1h-1zM551,98h1v1h-1zM552,99h1v1h-1zM552,101h1v1h-1zM553,101h1v1h-1zM551,102h1v1h-1z" fill-opacity="0.9"/><path d="M552,87h1v1h-1zM551,89h1v1h-1zM553,91h1v1h-1zM552,92h1v1h-1zM549,93h1v1h-1zM554,93h1v1h-1zM549,94h1v1h-1zM555,94h1v1h-1zM548,95h1v1h-1zM549,95h1v1h-1zM550,96h1v1h-1zM551,99h1v1h-1zM551,100h1v1h-1zM553,100h1v1h-1zM551,101h1v1h-1zM552,103h1v1h-1z" fill-opacity="0.38"/></g>
<path d="M552.20,83.00 L552.70,87.00 L556.20,93.50 L556.30,96.50 L553.00,103.00 L552.20,109.50 L552.20,109.50 L551.40,103.00 L548.10,96.50 L548.20,93.50 L551.70,87.00 L552.20,83.00Z" fill="none" stroke="#6a6a6a" stroke-width="1" stroke-linejoin="round"/>
<line x1="550.52" y1="89.5" x2="556.30" y2="89.5" stroke="#7a7a7a" stroke-width="0.6"/>
<line x1="547.60" y1="94.5" x2="559.50" y2="94.5" stroke="#7a7a7a" stroke-width="0.6"/>
<line x1="548.11" y1="96.5" x2="559.20" y2="96.5" stroke="#7a7a7a" stroke-width="0.6"/>
<clipPath id="vc7"><path d="M575.30,63.80 L575.80,80.00 L577.20,84.00 L577.30,100.00 L576.00,103.50 L575.30,116.40 L575.30,116.40 L574.60,103.50 L573.30,100.00 L573.40,84.00 L574.80,80.00 L575.30,63.80Z"/></clipPath>
<path d="M575.30,63.80 L575.80,80.00 L577.20,84.00 L577.30,100.00 L576.00,103.50 L575.30,116.40 L575.30,116.40 L574.60,103.50 L573.30,100.00 L573.40,84.00 L574.80,80.00 L575.30,63.80Z" fill="#a099b6"/>
<g clip-path="url(#vc7)" shape-rendering="crispEdges" fill="#d0bfff"><path d="M574,81h1v1h-1zM574,83h1v1h-1zM576,83h1v1h-1zM574,85h1v1h-1zM576,85h1v1h-1zM574,87h1v1h-1zM576,87h1v1h-1zM574,89h1v1h-1zM576,89h1v1h-1zM574,91h1v1h-1zM576,91h1v1h-1zM574,93h1v1h-1zM576,93h1v1h-1zM574,95h1v1h-1zM576,95h1v1h-1zM574,97h1v1h-1zM576,97h1v1h-1zM574,99h1v1h-1zM576,99h1v1h-1zM574,101h1v1h-1zM576,101h1v1h-1z" fill-opacity="0.9"/><path d="M574,84h1v1h-1zM576,84h1v1h-1zM576,86h1v1h-1zM573,87h1v1h-1zM575,87h1v1h-1zM576,88h1v1h-1zM576,90h1v1h-1zM573,91h1v1h-1zM574,92h1v1h-1zM574,94h1v1h-1zM573,95h1v1h-1zM575,97h1v1h-1zM574,98h1v1h-1z" fill-opacity="0.38"/></g>
<path d="M575.30,63.80 L575.80,80.00 L577.20,84.00 L577.30,100.00 L576.00,103.50 L575.30,116.40 L575.30,116.40 L574.60,103.50 L573.30,100.00 L573.40,84.00 L574.80,80.00 L575.30,63.80Z" fill="none" stroke="#6a6a6a" stroke-width="1" stroke-linejoin="round"/>
<line x1="573.20" y1="72.5" x2="575.57" y2="72.5" stroke="#7a7a7a" stroke-width="0.6"/>
<line x1="570.50" y1="88.5" x2="579.90" y2="88.5" stroke="#7a7a7a" stroke-width="0.6"/>
<line x1="570.50" y1="94.5" x2="577.27" y2="94.5" stroke="#7a7a7a" stroke-width="0.6"/>
<line x1="570.50" y1="96.5" x2="577.28" y2="96.5" stroke="#7a7a7a" stroke-width="0.6"/>
<line x1="572.00" y1="105.5" x2="575.91" y2="105.5" stroke="#7a7a7a" stroke-width="0.6"/>
<clipPath id="vc8"><path d="M591.10,94.00 L592.30,99.90 L595.00,104.00 L596.60,106.90 L595.00,110.00 L592.30,113.90 L591.10,119.70 L591.10,119.70 L589.90,113.90 L587.20,110.00 L585.60,106.90 L587.20,104.00 L589.90,99.90 L591.10,94.00Z"/></clipPath>
<path d="M591.10,94.00 L592.30,99.90 L595.00,104.00 L596.60,106.90 L595.00,110.00 L592.30,113.90 L591.10,119.70 L591.10,119.70 L589.90,113.90 L587.20,110.00 L585.60,106.90 L587.20,104.00 L589.90,99.90 L591.10,94.00Z" fill="#788c7e"/>
<g clip-path="url(#vc8)" shape-rendering="crispEdges" fill="#96e8a8"><path d="M591,97h1v1h-1zM591,102h1v1h-1zM593,102h1v1h-1zM591,103h1v1h-1zM593,103h1v1h-1zM587,104h1v1h-1zM587,105h1v1h-1zM586,106h1v1h-1zM588,106h1v1h-1zM591,106h1v1h-1zM586,107h1v1h-1zM587,107h1v1h-1zM588,107h1v1h-1zM592,107h1v1h-1zM595,107h1v1h-1zM588,108h1v1h-1zM588,109h1v1h-1zM589,109h1v1h-1zM589,110h1v1h-1zM592,110h1v1h-1zM593,110h1v1h-1zM594,110h1v1h-1zM590,111h1v1h-1zM591,111h1v1h-1zM593,111h1v1h-1zM592,113h1v1h-1zM590,114h1v1h-1zM591,114h1v1h-1z" fill-opacity="0.9"/><path d="M591,96h1v1h-1zM590,97h1v1h-1zM591,98h1v1h-1zM591,99h1v1h-1zM590,102h1v1h-1zM592,102h1v1h-1zM589,103h1v1h-1zM592,103h1v1h-1zM594,103h1v1h-1zM586,105h1v1h-1zM592,106h1v1h-1zM593,106h1v1h-1zM591,107h1v1h-1zM589,108h1v1h-1zM595,108h1v1h-1zM592,109h1v1h-1zM590,110h1v1h-1zM591,110h1v1h-1zM592,111h1v1h-1zM592,112h1v1h-1zM590,113h1v1h-1zM590,115h1v1h-1zM591,115h1v1h-1zM590,116h1v1h-1zM591,116h1v1h-1z" fill-opacity="0.38"/></g>
<path d="M591.10,94.00 L592.30,99.90 L595.00,104.00 L596.60,106.90 L595.00,110.00 L592.30,113.90 L591.10,119.70 L591.10,119.70 L589.90,113.90 L587.20,110.00 L585.60,106.90 L587.20,104.00 L589.90,99.90 L591.10,94.00Z" fill="none" stroke="#6a6a6a" stroke-width="1" stroke-linejoin="round"/>
<line x1="584.90" y1="106.5" x2="597.10" y2="106.5" stroke="#7a7a7a" stroke-width="0.6"/>
<line x1="585.10" y1="108.5" x2="597.00" y2="108.5" stroke="#7a7a7a" stroke-width="0.6"/>
<clipPath id="vc9"><path d="M614.20,115.10 L615.20,119.00 L618.90,122.00 L622.70,124.70 L618.90,127.00 L615.20,129.00 L614.20,131.80 L614.20,131.80 L613.20,129.00 L609.50,127.00 L605.70,124.70 L609.50,122.00 L613.20,119.00 L614.20,115.10Z"/></clipPath>
<path d="M614.20,115.10 L615.20,119.00 L618.90,122.00 L622.70,124.70 L618.90,127.00 L615.20,129.00 L614.20,131.80 L614.20,131.80 L613.20,129.00 L609.50,127.00 L605.70,124.70 L609.50,122.00 L613.20,119.00 L614.20,115.10Z" fill="#a099b6"/>
<g clip-path="url(#vc9)" shape-rendering="crispEdges" fill="#d0bfff"><path d="M613,119h1v1h-1zM615,119h1v1h-1zM611,121h1v1h-1zM613,121h1v1h-1zM615,121h1v1h-1zM617,121h1v1h-1zM607,123h1v1h-1zM609,123h1v1h-1zM611,123h1v1h-1zM613,123h1v1h-1zM615,123h1v1h-1zM617,123h1v1h-1zM619,123h1v1h-1zM607,125h1v1h-1zM609,125h1v1h-1zM611,125h1v1h-1zM613,125h1v1h-1zM615,125h1v1h-1zM617,125h1v1h-1zM619,125h1v1h-1zM611,127h1v1h-1zM613,127h1v1h-1zM615,127h1v1h-1zM617,127h1v1h-1zM613,129h1v1h-1z" fill-opacity="0.9"/><path d="M614,117h1v1h-1zM613,118h1v1h-1zM609,122h1v1h-1zM614,123h1v1h-1zM620,123h1v1h-1zM613,124h1v1h-1zM617,124h1v1h-1zM614,125h1v1h-1zM613,126h1v1h-1zM612,127h1v1h-1zM613,128h1v1h-1zM615,128h1v1h-1z" fill-opacity="0.38"/></g>
<path d="M614.20,115.10 L615.20,119.00 L618.90,122.00 L622.70,124.70 L618.90,127.00 L615.20,129.00 L614.20,131.80 L614.20,131.80 L613.20,129.00 L609.50,127.00 L605.70,124.70 L609.50,122.00 L613.20,119.00 L614.20,115.10Z" fill="none" stroke="#6a6a6a" stroke-width="1" stroke-linejoin="round"/>
<line x1="601.60" y1="124.5" x2="623.20" y2="124.5" stroke="#7a7a7a" stroke-width="0.6"/>
<clipPath id="vc10"><path d="M630.00,118.00 L631.00,121.50 L634.20,123.50 L637.10,125.50 L634.20,127.50 L631.00,130.00 L630.00,133.80 L630.00,133.80 L629.00,130.00 L625.80,127.50 L622.90,125.50 L625.80,123.50 L629.00,121.50 L630.00,118.00Z"/></clipPath>
<path d="M630.00,118.00 L631.00,121.50 L634.20,123.50 L637.10,125.50 L634.20,127.50 L631.00,130.00 L630.00,133.80 L630.00,133.80 L629.00,130.00 L625.80,127.50 L622.90,125.50 L625.80,123.50 L629.00,121.50 L630.00,118.00Z" fill="#788c7e"/>
<g clip-path="url(#vc10)" shape-rendering="crispEdges" fill="#96e8a8"><path d="M629,120h1v1h-1zM629,121h1v1h-1zM630,121h1v1h-1zM627,122h1v1h-1zM628,122h1v1h-1zM629,122h1v1h-1zM627,123h1v1h-1zM628,123h1v1h-1zM630,123h1v1h-1zM624,124h1v1h-1zM625,124h1v1h-1zM626,124h1v1h-1zM628,124h1v1h-1zM623,125h1v1h-1zM624,125h1v1h-1zM625,125h1v1h-1zM626,125h1v1h-1zM627,125h1v1h-1zM628,125h1v1h-1zM629,126h1v1h-1zM631,126h1v1h-1zM635,126h1v1h-1zM629,127h1v1h-1zM630,127h1v1h-1zM631,127h1v1h-1zM627,128h1v1h-1zM631,129h1v1h-1z" fill-opacity="0.9"/><path d="M630,120h1v1h-1zM629,123h1v1h-1zM633,123h1v1h-1zM629,124h1v1h-1zM630,126h1v1h-1zM632,126h1v1h-1zM632,127h1v1h-1zM630,129h1v1h-1z" fill-opacity="0.38"/></g>
<path d="M630.00,118.00 L631.00,121.50 L634.20,123.50 L637.10,125.50 L634.20,127.50 L631.00,130.00 L630.00,133.80 L630.00,133.80 L629.00,130.00 L625.80,127.50 L622.90,125.50 L625.80,123.50 L629.00,121.50 L630.00,118.00Z" fill="none" stroke="#6a6a6a" stroke-width="1" stroke-linejoin="round"/>
<line x1="622.40" y1="125.5" x2="642.00" y2="125.5" stroke="#7a7a7a" stroke-width="0.6"/>
<clipPath id="vc11"><path d="M653.10,75.20 L653.60,87.90 L655.80,93.00 L657.10,99.30 L655.80,103.00 L653.80,107.50 L653.10,115.70 L653.10,115.70 L652.40,107.50 L650.40,103.00 L649.10,99.30 L650.40,93.00 L652.60,87.90 L653.10,75.20Z"/></clipPath>
<path d="M653.10,75.20 L653.60,87.90 L655.80,93.00 L657.10,99.30 L655.80,103.00 L653.80,107.50 L653.10,115.70 L653.10,115.70 L652.40,107.50 L650.40,103.00 L649.10,99.30 L650.40,93.00 L652.60,87.90 L653.10,75.20Z" fill="#a099b6"/>
<g clip-path="url(#vc11)" shape-rendering="crispEdges" fill="#d0bfff"><path d="M652,89h1v1h-1zM652,91h1v1h-1zM654,91h1v1h-1zM650,93h1v1h-1zM652,93h1v1h-1zM654,93h1v1h-1zM650,95h1v1h-1zM652,95h1v1h-1zM654,95h1v1h-1zM650,97h1v1h-1zM652,97h1v1h-1zM654,97h1v1h-1zM656,97h1v1h-1zM650,99h1v1h-1zM652,99h1v1h-1zM654,99h1v1h-1zM656,99h1v1h-1zM650,101h1v1h-1zM652,101h1v1h-1zM654,101h1v1h-1zM652,103h1v1h-1zM654,103h1v1h-1zM652,105h1v1h-1zM654,105h1v1h-1zM652,107h1v1h-1z" fill-opacity="0.9"/><path d="M653,89h1v1h-1zM652,92h1v1h-1zM654,92h1v1h-1zM650,94h1v1h-1zM655,95h1v1h-1zM655,97h1v1h-1zM650,98h1v1h-1zM654,100h1v1h-1zM650,102h1v1h-1zM652,104h1v1h-1zM654,104h1v1h-1zM652,106h1v1h-1z" fill-opacity="0.38"/></g>
<path d="M653.10,75.20 L653.60,87.90 L655.80,93.00 L657.10,99.30 L655.80,103.00 L653.80,107.50 L653.10,115.70 L653.10,115.70 L652.40,107.50 L650.40,103.00 L649.10,99.30 L650.40,93.00 L652.60,87.90 L653.10,75.20Z" fill="none" stroke="#6a6a6a" stroke-width="1" stroke-linejoin="round"/>
<line x1="648.10" y1="92.5" x2="655.45" y2="92.5" stroke="#7a7a7a" stroke-width="0.6"/>
<line x1="646.40" y1="99.5" x2="657.70" y2="99.5" stroke="#7a7a7a" stroke-width="0.6"/>
<clipPath id="vc12"><path d="M668.90,83.40 L669.40,93.70 L672.10,98.00 L673.30,102.90 L671.80,108.00 L669.60,113.40 L668.90,117.50 L668.90,117.50 L668.20,113.40 L666.00,108.00 L664.50,102.90 L665.70,98.00 L668.40,93.70 L668.90,83.40Z"/></clipPath>
<path d="M668.90,83.40 L669.40,93.70 L672.10,98.00 L673.30,102.90 L671.80,108.00 L669.60,113.40 L668.90,117.50 L668.90,117.50 L668.20,113.40 L666.00,108.00 L664.50,102.90 L665.70,98.00 L668.40,93.70 L668.90,83.40Z" fill="#788c7e"/>
<g clip-path="url(#vc12)" shape-rendering="crispEdges" fill="#96e8a8"><path d="M669,94h1v1h-1zM670,95h1v1h-1zM666,97h1v1h-1zM667,97h1v1h-1zM670,97h1v1h-1zM669,98h1v1h-1zM671,99h1v1h-1zM666,100h1v1h-1zM669,101h1v1h-1zM671,102h1v1h-1zM669,104h1v1h-1zM671,105h1v1h-1zM667,106h1v1h-1zM668,106h1v1h-1zM671,106h1v1h-1zM668,107h1v1h-1zM671,107h1v1h-1zM668,108h1v1h-1zM669,108h1v1h-1zM668,109h1v1h-1zM669,110h1v1h-1zM669,111h1v1h-1zM668,114h1v1h-1z" fill-opacity="0.9"/><path d="M669,95h1v1h-1zM667,96h1v1h-1zM670,96h1v1h-1zM669,99h1v1h-1zM672,100h1v1h-1zM665,101h1v1h-1zM667,101h1v1h-1zM668,101h1v1h-1zM670,101h1v1h-1zM671,101h1v1h-1zM667,102h1v1h-1zM669,102h1v1h-1zM668,104h1v1h-1zM670,104h1v1h-1zM671,104h1v1h-1zM668,105h1v1h-1zM667,107h1v1h-1zM670,110h1v1h-1z" fill-opacity="0.38"/></g>
<path d="M668.90,83.40 L669.40,93.70 L672.10,98.00 L673.30,102.90 L671.80,108.00 L669.60,113.40 L668.90,117.50 L668.90,117.50 L668.20,113.40 L666.00,108.00 L664.50,102.90 L665.70,98.00 L668.40,93.70 L668.90,83.40Z" fill="none" stroke="#6a6a6a" stroke-width="1" stroke-linejoin="round"/>
<line x1="666.96" y1="96.5" x2="672.70" y2="96.5" stroke="#7a7a7a" stroke-width="0.6"/>
<line x1="664.00" y1="102.5" x2="675.30" y2="102.5" stroke="#7a7a7a" stroke-width="0.6"/>
<rect x="444.0" y="4.0" width="239.5" height="155.5" fill="none" stroke="#7c7c7c" stroke-width="1"/>
<line x1="441.3" y1="159.50" x2="444.0" y2="159.50" stroke="#7c7c7c" stroke-width="0.8"/>
<text x="439.1" y="161.95" font-size="7.2" fill="#141414" text-anchor="end">0</text>
<line x1="441.3" y1="133.58" x2="444.0" y2="133.58" stroke="#7c7c7c" stroke-width="0.8"/>
<text x="439.1" y="136.03" font-size="7.2" fill="#141414" text-anchor="end">20</text>
<line x1="441.3" y1="107.67" x2="444.0" y2="107.67" stroke="#7c7c7c" stroke-width="0.8"/>
<text x="439.1" y="110.12" font-size="7.2" fill="#141414" text-anchor="end">40</text>
<line x1="441.3" y1="81.75" x2="444.0" y2="81.75" stroke="#7c7c7c" stroke-width="0.8"/>
<text x="439.1" y="84.20" font-size="7.2" fill="#141414" text-anchor="end">60</text>
<line x1="441.3" y1="55.83" x2="444.0" y2="55.83" stroke="#7c7c7c" stroke-width="0.8"/>
<text x="439.1" y="58.28" font-size="7.2" fill="#141414" text-anchor="end">80</text>
<line x1="441.3" y1="29.92" x2="444.0" y2="29.92" stroke="#7c7c7c" stroke-width="0.8"/>
<text x="439.1" y="32.37" font-size="7.2" fill="#141414" text-anchor="end">100</text>
<line x1="441.3" y1="4.00" x2="444.0" y2="4.00" stroke="#7c7c7c" stroke-width="0.8"/>
<text x="439.1" y="6.45" font-size="7.2" fill="#141414" text-anchor="end">120</text>
<line x1="466.50" y1="159.5" x2="466.50" y2="162.2" stroke="#7c7c7c" stroke-width="0.8"/>
<text x="466.50" y="169.60" font-size="7.2" fill="#141414" text-anchor="middle">A</text>
<line x1="505.40" y1="159.5" x2="505.40" y2="162.2" stroke="#7c7c7c" stroke-width="0.8"/>
<text x="505.40" y="169.60" font-size="7.2" fill="#141414" text-anchor="middle">B</text>
<line x1="544.30" y1="159.5" x2="544.30" y2="162.2" stroke="#7c7c7c" stroke-width="0.8"/>
<text x="544.30" y="169.60" font-size="7.2" fill="#141414" text-anchor="middle">C</text>
<line x1="583.20" y1="159.5" x2="583.20" y2="162.2" stroke="#7c7c7c" stroke-width="0.8"/>
<text x="583.20" y="169.60" font-size="7.2" fill="#141414" text-anchor="middle">D</text>
<line x1="622.10" y1="159.5" x2="622.10" y2="162.2" stroke="#7c7c7c" stroke-width="0.8"/>
<text x="622.10" y="169.60" font-size="7.2" fill="#141414" text-anchor="middle">E</text>
<line x1="661.00" y1="159.5" x2="661.00" y2="162.2" stroke="#7c7c7c" stroke-width="0.8"/>
<text x="661.00" y="169.60" font-size="7.2" fill="#141414" text-anchor="middle">F</text>
<text x="563.8" y="180.9" font-size="9.7" fill="#141414" text-anchor="middle">Vial</text>
<text transform="translate(420.4,81.5) rotate(-90)" font-size="9.7" fill="#141414" text-anchor="middle">[L-arg] (mM)</text>
<text x="449.1" y="16.7" font-size="12.8" font-weight="bold" fill="#000">e</text>
</g>
<g id="legend-e">
<rect x="540.5" y="8.5" width="138.3" height="46.9" rx="2" ry="2" fill="#fff" fill-opacity="0.82" stroke="#d6d6d6" stroke-width="0.8"/>
<rect x="544.3" y="13.3" width="20.6" height="7.3" fill="#d0bfff" stroke="#6a6a6a" stroke-width="0.8"/>
<rect x="544.3" y="28.0" width="20.6" height="7.3" fill="#96e8a8" stroke="#6a6a6a" stroke-width="0.8"/>
<polygon points="554.50,41.50 558.78,44.61 557.15,49.64 551.85,49.64 550.22,44.61" fill="#a1c9f4" stroke="#2b2b2b" stroke-width="0.8" stroke-linejoin="miter"/>
<text x="573.3" y="20.7" font-family='"DejaVu Serif","Liberation Serif",serif' font-size="9.82" fill="#141414">Dictionary matching</text>
<text x="573.3" y="35.3" font-family='"DejaVu Serif","Liberation Serif",serif' font-size="9.82" fill="#141414">NBMF</text>
<text x="573.3" y="49.9" font-family='"DejaVu Serif","Liberation Serif",serif' font-size="9.82" fill="#141414">Ground truth</text>
</g>
<g id="axes-f">
<rect x="444.0" y="190.5" width="239.5" height="155.5" fill="#fff"/>
<line x1="444.0" y1="346.00" x2="683.5" y2="346.00" stroke="#c6c6c6" stroke-width="1"/>
<line x1="444.0" y1="323.79" x2="683.5" y2="323.79" stroke="#c6c6c6" stroke-width="1"/>
<line x1="444.0" y1="301.57" x2="683.5" y2="301.57" stroke="#c6c6c6" stroke-width="1"/>
<line x1="444.0" y1="279.36" x2="683.5" y2="279.36" stroke="#c6c6c6" stroke-width="1"/>
<line x1="444.0" y1="257.14" x2="683.5" y2="257.14" stroke="#c6c6c6" stroke-width="1"/>
<line x1="444.0" y1="234.93" x2="683.5" y2="234.93" stroke="#c6c6c6" stroke-width="1"/>
<line x1="444.0" y1="212.71" x2="683.5" y2="212.71" stroke="#c6c6c6" stroke-width="1"/>
<line x1="444.0" y1="190.50" x2="683.5" y2="190.50" stroke="#c6c6c6" stroke-width="1"/>
<line x1="463.90" y1="190.5" x2="463.90" y2="346.0" stroke="#c6c6c6" stroke-width="1"/>
<line x1="503.83" y1="190.5" x2="503.83" y2="346.0" stroke="#c6c6c6" stroke-width="1"/>
<line x1="543.76" y1="190.5" x2="543.76" y2="346.0" stroke="#c6c6c6" stroke-width="1"/>
<line x1="583.69" y1="190.5" x2="583.69" y2="346.0" stroke="#c6c6c6" stroke-width="1"/>
<line x1="623.62" y1="190.5" x2="623.62" y2="346.0" stroke="#c6c6c6" stroke-width="1"/>
<line x1="663.55" y1="190.5" x2="663.55" y2="346.0" stroke="#c6c6c6" stroke-width="1"/>
<clipPath id="vc13"><path d="M456.00,211.30 L456.70,214.80 L459.00,220.45 L461.20,226.10 L459.00,229.50 L456.70,232.90 L456.00,236.40 L456.00,236.40 L455.30,232.90 L453.00,229.50 L450.80,226.10 L453.00,220.45 L455.30,214.80 L456.00,211.30Z"/></clipPath>
<path d="M456.00,211.30 L456.70,214.80 L459.00,220.45 L461.20,226.10 L459.00,229.50 L456.70,232.90 L456.00,236.40 L456.00,236.40 L455.30,232.90 L453.00,229.50 L450.80,226.10 L453.00,220.45 L455.30,214.80 L456.00,211.30Z" fill="#7e7b89"/>
<g clip-path="url(#vc13)" shape-rendering="crispEdges" fill="#d0bfff"><path d="M455,216h1v1h-1zM455,218h1v1h-1zM454,219h1v1h-1zM456,219h1v1h-1zM456,220h1v1h-1zM458,220h1v1h-1zM456,221h1v1h-1zM457,221h1v1h-1zM458,221h1v1h-1zM457,222h1v1h-1zM458,222h1v1h-1zM457,223h1v1h-1zM458,223h1v1h-1zM453,224h1v1h-1zM458,224h1v1h-1zM459,224h1v1h-1zM460,224h1v1h-1zM452,225h1v1h-1zM453,225h1v1h-1zM459,225h1v1h-1zM459,226h1v1h-1zM452,227h1v1h-1zM458,227h1v1h-1zM453,228h1v1h-1zM457,228h1v1h-1zM457,230h1v1h-1zM455,232h1v1h-1zM455,233h1v1h-1z" fill-opacity="0.9"/><path d="M454,217h1v1h-1zM455,217h1v1h-1zM454,218h1v1h-1zM456,218h1v1h-1zM453,219h1v1h-1zM455,219h1v1h-1zM457,220h1v1h-1zM453,222h1v1h-1zM456,222h1v1h-1zM452,224h1v1h-1zM458,225h1v1h-1zM451,226h1v1h-1zM454,226h1v1h-1zM457,227h1v1h-1zM453,229h1v1h-1zM456,229h1v1h-1zM457,229h1v1h-1zM458,229h1v1h-1zM455,230h1v1h-1zM456,231h1v1h-1zM457,231h1v1h-1zM456,232h1v1h-1z" fill-opacity="0.38"/></g>
<path d="M456.00,211.30 L456.70,214.80 L459.00,220.45 L461.20,226.10 L459.00,229.50 L456.70,232.90 L456.00,236.40 L456.00,236.40 L455.30,232.90 L453.00,229.50 L450.80,226.10 L453.00,220.45 L455.30,214.80 L456.00,211.30Z" fill="none" stroke="#6a6a6a" stroke-width="1" stroke-linejoin="round"/>
<line x1="448.40" y1="226.5" x2="465.00" y2="226.5" stroke="#7a7a7a" stroke-width="0.6"/>
<clipPath id="vc14"><path d="M471.80,202.30 L472.50,206.30 L475.32,211.40 L476.00,216.50 L475.32,220.70 L472.50,224.90 L471.80,229.40 L471.80,229.40 L471.10,224.90 L468.27,220.70 L467.60,216.50 L468.27,211.40 L471.10,206.30 L471.80,202.30Z"/></clipPath>
<path d="M471.80,202.30 L472.50,206.30 L475.32,211.40 L476.00,216.50 L475.32,220.70 L472.50,224.90 L471.80,229.40 L471.80,229.40 L471.10,224.90 L468.27,220.70 L467.60,216.50 L468.27,211.40 L471.10,206.30 L471.80,202.30Z" fill="#738777"/>
<g clip-path="url(#vc14)" shape-rendering="crispEdges" fill="#96e8a8"><path d="M471,205h1v1h-1zM471,206h1v1h-1zM472,206h1v1h-1zM472,207h1v1h-1zM470,208h1v1h-1zM470,209h1v1h-1zM472,209h1v1h-1zM473,210h1v1h-1zM473,212h1v1h-1zM472,213h1v1h-1zM473,213h1v1h-1zM468,214h1v1h-1zM470,214h1v1h-1zM471,214h1v1h-1zM471,215h1v1h-1zM472,215h1v1h-1zM474,216h1v1h-1zM475,216h1v1h-1zM468,217h1v1h-1zM469,217h1v1h-1zM474,217h1v1h-1zM475,217h1v1h-1zM472,218h1v1h-1zM473,218h1v1h-1zM468,220h1v1h-1zM469,220h1v1h-1zM474,220h1v1h-1zM469,221h1v1h-1zM470,221h1v1h-1zM471,221h1v1h-1z" fill-opacity="0.9"/><path d="M471,209h1v1h-1zM473,209h1v1h-1zM474,210h1v1h-1zM474,211h1v1h-1zM474,212h1v1h-1zM474,213h1v1h-1zM472,214h1v1h-1zM469,215h1v1h-1zM474,215h1v1h-1zM469,216h1v1h-1zM472,216h1v1h-1zM473,216h1v1h-1zM470,217h1v1h-1zM472,217h1v1h-1zM473,217h1v1h-1zM471,218h1v1h-1zM474,218h1v1h-1zM471,219h1v1h-1zM472,219h1v1h-1zM473,219h1v1h-1zM475,219h1v1h-1zM470,220h1v1h-1zM471,220h1v1h-1zM474,221h1v1h-1zM470,222h1v1h-1z" fill-opacity="0.38"/></g>
<path d="M471.80,202.30 L472.50,206.30 L475.32,211.40 L476.00,216.50 L475.32,220.70 L472.50,224.90 L471.80,229.40 L471.80,229.40 L471.10,224.90 L468.27,220.70 L467.60,216.50 L468.27,211.40 L471.10,206.30 L471.80,202.30Z" fill="none" stroke="#6a6a6a" stroke-width="1" stroke-linejoin="round"/>
<line x1="469.00" y1="210.5" x2="477.10" y2="210.5" stroke="#7a7a7a" stroke-width="0.6"/>
<line x1="466.20" y1="217.5" x2="478.80" y2="217.5" stroke="#7a7a7a" stroke-width="0.6"/>
<clipPath id="vc15"><path d="M495.93,232.30 L496.63,234.80 L500.09,238.50 L501.83,242.20 L500.09,246.30 L496.63,250.40 L495.93,253.90 L495.93,253.90 L495.23,250.40 L491.77,246.30 L490.03,242.20 L491.77,238.50 L495.23,234.80 L495.93,232.30Z"/></clipPath>
<path d="M495.93,232.30 L496.63,234.80 L500.09,238.50 L501.83,242.20 L500.09,246.30 L496.63,250.40 L495.93,253.90 L495.93,253.90 L495.23,250.40 L491.77,246.30 L490.03,242.20 L491.77,238.50 L495.23,234.80 L495.93,232.30Z" fill="#7e7b89"/>
<g clip-path="url(#vc15)" shape-rendering="crispEdges" fill="#d0bfff"><path d="M496,234h1v1h-1zM496,235h1v1h-1zM491,240h1v1h-1zM490,241h1v1h-1zM491,241h1v1h-1zM494,241h1v1h-1zM497,241h1v1h-1zM495,242h1v1h-1zM496,242h1v1h-1zM498,242h1v1h-1zM501,242h1v1h-1zM495,243h1v1h-1zM496,243h1v1h-1zM498,243h1v1h-1zM494,248h1v1h-1zM495,248h1v1h-1zM495,250h1v1h-1z" fill-opacity="0.9"/><path d="M495,234h1v1h-1zM495,235h1v1h-1zM497,236h1v1h-1zM496,237h1v1h-1zM493,238h1v1h-1zM499,238h1v1h-1zM499,239h1v1h-1zM500,239h1v1h-1zM493,240h1v1h-1zM494,240h1v1h-1zM495,240h1v1h-1zM496,240h1v1h-1zM497,240h1v1h-1zM497,242h1v1h-1zM493,243h1v1h-1zM497,243h1v1h-1zM492,244h1v1h-1zM496,244h1v1h-1zM493,245h1v1h-1zM497,245h1v1h-1zM493,247h1v1h-1zM496,248h1v1h-1zM497,248h1v1h-1zM494,249h1v1h-1zM496,249h1v1h-1z" fill-opacity="0.38"/></g>
<path d="M495.93,232.30 L496.63,234.80 L500.09,238.50 L501.83,242.20 L500.09,246.30 L496.63,250.40 L495.93,253.90 L495.93,253.90 L495.23,250.40 L491.77,246.30 L490.03,242.20 L491.77,238.50 L495.23,234.80 L495.93,232.30Z" fill="none" stroke="#6a6a6a" stroke-width="1" stroke-linejoin="round"/>
<line x1="489.13" y1="242.5" x2="502.33" y2="242.5" stroke="#7a7a7a" stroke-width="0.6"/>
<clipPath id="vc16"><path d="M511.73,224.70 L512.43,227.20 L516.04,230.90 L517.83,234.60 L516.04,238.70 L512.43,242.80 L511.73,246.30 L511.73,246.30 L511.03,242.80 L507.42,238.70 L505.63,234.60 L507.42,230.90 L511.03,227.20 L511.73,224.70Z"/></clipPath>
<path d="M511.73,224.70 L512.43,227.20 L516.04,230.90 L517.83,234.60 L516.04,238.70 L512.43,242.80 L511.73,246.30 L511.73,246.30 L511.03,242.80 L507.42,238.70 L505.63,234.60 L507.42,230.90 L511.03,227.20 L511.73,224.70Z" fill="#738777"/>
<g clip-path="url(#vc16)" shape-rendering="crispEdges" fill="#96e8a8"><path d="M510,228h1v1h-1zM511,228h1v1h-1zM509,230h1v1h-1zM513,230h1v1h-1zM514,230h1v1h-1zM513,231h1v1h-1zM514,231h1v1h-1zM509,232h1v1h-1zM510,232h1v1h-1zM512,232h1v1h-1zM513,232h1v1h-1zM506,233h1v1h-1zM508,233h1v1h-1zM509,233h1v1h-1zM510,233h1v1h-1zM512,233h1v1h-1zM513,233h1v1h-1zM512,234h1v1h-1zM511,235h1v1h-1zM512,235h1v1h-1zM506,236h1v1h-1zM509,236h1v1h-1zM513,236h1v1h-1zM516,236h1v1h-1zM507,237h1v1h-1zM512,237h1v1h-1zM509,238h1v1h-1zM511,238h1v1h-1zM513,238h1v1h-1zM515,238h1v1h-1zM513,239h1v1h-1zM514,239h1v1h-1zM509,240h1v1h-1zM511,240h1v1h-1zM512,240h1v1h-1zM513,240h1v1h-1zM510,241h1v1h-1zM511,241h1v1h-1zM512,241h1v1h-1zM513,241h1v1h-1zM511,242h1v1h-1zM512,242h1v1h-1zM511,243h1v1h-1z" fill-opacity="0.9"/><path d="M510,229h1v1h-1zM514,229h1v1h-1zM508,230h1v1h-1zM510,230h1v1h-1zM510,231h1v1h-1zM507,232h1v1h-1zM508,232h1v1h-1zM511,232h1v1h-1zM507,233h1v1h-1zM511,233h1v1h-1zM508,234h1v1h-1zM511,234h1v1h-1zM506,235h1v1h-1zM507,235h1v1h-1zM507,236h1v1h-1zM508,236h1v1h-1zM511,236h1v1h-1zM512,236h1v1h-1zM508,237h1v1h-1zM509,237h1v1h-1zM511,237h1v1h-1zM516,237h1v1h-1zM507,238h1v1h-1zM508,238h1v1h-1zM509,239h1v1h-1zM510,239h1v1h-1zM512,239h1v1h-1zM510,240h1v1h-1z" fill-opacity="0.38"/></g>
<path d="M511.73,224.70 L512.43,227.20 L516.04,230.90 L517.83,234.60 L516.04,238.70 L512.43,242.80 L511.73,246.30 L511.73,246.30 L511.03,242.80 L507.42,238.70 L505.63,234.60 L507.42,230.90 L511.03,227.20 L511.73,224.70Z" fill="none" stroke="#6a6a6a" stroke-width="1" stroke-linejoin="round"/>
<line x1="504.13" y1="234.5" x2="518.73" y2="234.5" stroke="#7a7a7a" stroke-width="0.6"/>
<clipPath id="vc17"><path d="M535.86,241.10 L536.56,244.10 L539.74,248.55 L541.36,253.00 L539.74,257.30 L536.56,261.60 L535.86,266.10 L535.86,266.10 L535.16,261.60 L531.98,257.30 L530.36,253.00 L531.98,248.55 L535.16,244.10 L535.86,241.10Z"/></clipPath>
<path d="M535.86,241.10 L536.56,244.10 L539.74,248.55 L541.36,253.00 L539.74,257.30 L536.56,261.60 L535.86,266.10 L535.86,266.10 L535.16,261.60 L531.98,257.30 L530.36,253.00 L531.98,248.55 L535.16,244.10 L535.86,241.10Z" fill="#7e7b89"/>
<g clip-path="url(#vc17)" shape-rendering="crispEdges" fill="#d0bfff"><path d="M533,246h1v1h-1zM534,246h1v1h-1zM536,246h1v1h-1zM537,246h1v1h-1zM533,247h1v1h-1zM534,247h1v1h-1zM536,247h1v1h-1zM534,248h1v1h-1zM535,248h1v1h-1zM535,249h1v1h-1zM532,250h1v1h-1zM535,250h1v1h-1zM536,250h1v1h-1zM539,250h1v1h-1zM531,251h1v1h-1zM532,251h1v1h-1zM533,251h1v1h-1zM535,251h1v1h-1zM536,251h1v1h-1zM537,251h1v1h-1zM538,251h1v1h-1zM531,252h1v1h-1zM536,252h1v1h-1zM537,252h1v1h-1zM538,252h1v1h-1zM536,253h1v1h-1zM537,253h1v1h-1zM531,254h1v1h-1zM537,254h1v1h-1zM538,254h1v1h-1zM531,255h1v1h-1zM537,255h1v1h-1zM538,255h1v1h-1zM534,256h1v1h-1zM535,256h1v1h-1zM536,256h1v1h-1zM537,256h1v1h-1zM532,257h1v1h-1zM535,257h1v1h-1zM536,257h1v1h-1zM537,257h1v1h-1zM536,260h1v1h-1zM535,261h1v1h-1zM536,261h1v1h-1z" fill-opacity="0.9"/><path d="M535,244h1v1h-1zM534,245h1v1h-1zM535,245h1v1h-1zM535,246h1v1h-1zM535,247h1v1h-1zM534,249h1v1h-1zM531,250h1v1h-1zM538,250h1v1h-1zM539,252h1v1h-1zM531,253h1v1h-1zM538,253h1v1h-1zM539,253h1v1h-1zM532,254h1v1h-1zM532,255h1v1h-1zM532,256h1v1h-1zM538,256h1v1h-1zM533,257h1v1h-1zM534,257h1v1h-1zM538,258h1v1h-1zM534,260h1v1h-1zM535,260h1v1h-1zM535,262h1v1h-1z" fill-opacity="0.38"/></g>
<path d="M535.86,241.10 L536.56,244.10 L539.74,248.55 L541.36,253.00 L539.74,257.30 L536.56,261.60 L535.86,266.10 L535.86,266.10 L535.16,261.60 L531.98,257.30 L530.36,253.00 L531.98,248.55 L535.16,244.10 L535.86,241.10Z" fill="none" stroke="#6a6a6a" stroke-width="1" stroke-linejoin="round"/>
<line x1="529.46" y1="253.5" x2="543.56" y2="253.5" stroke="#7a7a7a" stroke-width="0.6"/>
<clipPath id="vc18"><path d="M551.66,233.80 L552.36,236.30 L555.54,240.60 L557.16,244.90 L555.54,248.70 L552.36,252.50 L551.66,256.50 L551.66,256.50 L550.96,252.50 L547.78,248.70 L546.16,244.90 L547.78,240.60 L550.96,236.30 L551.66,233.80Z"/></clipPath>
<path d="M551.66,233.80 L552.36,236.30 L555.54,240.60 L557.16,244.90 L555.54,248.70 L552.36,252.50 L551.66,256.50 L551.66,256.50 L550.96,252.50 L547.78,248.70 L546.16,244.90 L547.78,240.60 L550.96,236.30 L551.66,233.80Z" fill="#738777"/>
<g clip-path="url(#vc18)" shape-rendering="crispEdges" fill="#96e8a8"><path d="M552,238h1v1h-1zM553,239h1v1h-1zM554,239h1v1h-1zM551,240h1v1h-1zM547,241h1v1h-1zM552,242h1v1h-1zM552,243h1v1h-1zM546,244h1v1h-1zM547,244h1v1h-1zM552,244h1v1h-1zM554,244h1v1h-1zM555,244h1v1h-1zM546,245h1v1h-1zM547,245h1v1h-1zM552,245h1v1h-1zM554,245h1v1h-1zM555,245h1v1h-1zM554,246h1v1h-1zM551,247h1v1h-1zM553,247h1v1h-1zM555,247h1v1h-1zM550,248h1v1h-1zM551,250h1v1h-1zM550,251h1v1h-1zM551,251h1v1h-1zM552,251h1v1h-1z" fill-opacity="0.9"/><path d="M550,238h1v1h-1zM553,238h1v1h-1zM551,239h1v1h-1zM548,240h1v1h-1zM549,240h1v1h-1zM550,240h1v1h-1zM552,240h1v1h-1zM553,240h1v1h-1zM554,240h1v1h-1zM549,241h1v1h-1zM552,241h1v1h-1zM550,242h1v1h-1zM550,243h1v1h-1zM551,243h1v1h-1zM548,244h1v1h-1zM553,244h1v1h-1zM548,245h1v1h-1zM553,245h1v1h-1zM551,246h1v1h-1zM553,246h1v1h-1zM555,246h1v1h-1zM552,247h1v1h-1zM554,247h1v1h-1zM551,248h1v1h-1zM552,248h1v1h-1zM553,248h1v1h-1zM552,249h1v1h-1zM553,249h1v1h-1zM549,250h1v1h-1zM550,250h1v1h-1zM552,250h1v1h-1zM553,250h1v1h-1z" fill-opacity="0.38"/></g>
<path d="M551.66,233.80 L552.36,236.30 L555.54,240.60 L557.16,244.90 L555.54,248.70 L552.36,252.50 L551.66,256.50 L551.66,256.50 L550.96,252.50 L547.78,248.70 L546.16,244.90 L547.78,240.60 L550.96,236.30 L551.66,233.80Z" fill="none" stroke="#6a6a6a" stroke-width="1" stroke-linejoin="round"/>
<line x1="547.66" y1="236.5" x2="552.66" y2="236.5" stroke="#7a7a7a" stroke-width="0.6"/>
<line x1="545.76" y1="245.5" x2="558.56" y2="245.5" stroke="#7a7a7a" stroke-width="0.6"/>
<clipPath id="vc19"><path d="M575.79,307.50 L576.79,310.00 L580.04,313.15 L584.59,316.30 L580.04,319.30 L576.79,322.30 L575.79,324.80 L575.79,324.80 L574.79,322.30 L571.54,319.30 L566.99,316.30 L571.54,313.15 L574.79,310.00 L575.79,307.50Z"/></clipPath>
<path d="M575.79,307.50 L576.79,310.00 L580.04,313.15 L584.59,316.30 L580.04,319.30 L576.79,322.30 L575.79,324.80 L575.79,324.80 L574.79,322.30 L571.54,319.30 L566.99,316.30 L571.54,313.15 L574.79,310.00 L575.79,307.50Z" fill="#7e7b89"/>
<g clip-path="url(#vc19)" shape-rendering="crispEdges" fill="#d0bfff"><path d="M575,309h1v1h-1zM576,309h1v1h-1zM574,310h1v1h-1zM573,311h1v1h-1zM574,311h1v1h-1zM577,311h1v1h-1zM576,312h1v1h-1zM577,312h1v1h-1zM571,313h1v1h-1zM573,313h1v1h-1zM577,313h1v1h-1zM575,314h1v1h-1zM576,314h1v1h-1zM577,314h1v1h-1zM568,315h1v1h-1zM577,315h1v1h-1zM575,316h1v1h-1zM580,316h1v1h-1zM581,316h1v1h-1zM574,317h1v1h-1zM575,317h1v1h-1zM580,317h1v1h-1zM571,318h1v1h-1zM572,318h1v1h-1zM573,318h1v1h-1zM574,318h1v1h-1zM578,318h1v1h-1zM572,319h1v1h-1zM573,319h1v1h-1zM574,319h1v1h-1zM577,319h1v1h-1zM578,319h1v1h-1zM579,319h1v1h-1zM573,320h1v1h-1zM574,320h1v1h-1zM575,320h1v1h-1zM577,320h1v1h-1zM577,321h1v1h-1zM575,322h1v1h-1zM576,322h1v1h-1zM575,323h1v1h-1z" fill-opacity="0.9"/><path d="M572,312h1v1h-1zM573,312h1v1h-1zM574,312h1v1h-1zM572,313h1v1h-1zM574,313h1v1h-1zM576,313h1v1h-1zM575,315h1v1h-1zM576,315h1v1h-1zM578,315h1v1h-1zM574,316h1v1h-1zM578,316h1v1h-1zM581,317h1v1h-1zM577,318h1v1h-1zM579,318h1v1h-1zM578,320h1v1h-1zM575,321h1v1h-1z" fill-opacity="0.38"/></g>
<path d="M575.79,307.50 L576.79,310.00 L580.04,313.15 L584.59,316.30 L580.04,319.30 L576.79,322.30 L575.79,324.80 L575.79,324.80 L574.79,322.30 L571.54,319.30 L566.99,316.30 L571.54,313.15 L574.79,310.00 L575.79,307.50Z" fill="none" stroke="#6a6a6a" stroke-width="1" stroke-linejoin="round"/>
<line x1="566.59" y1="316.5" x2="585.39" y2="316.5" stroke="#7a7a7a" stroke-width="0.6"/>
<clipPath id="vc20"><path d="M591.59,301.70 L593.29,303.20 L598.49,305.05 L600.89,306.90 L598.49,309.40 L593.29,311.90 L591.59,313.90 L591.59,313.90 L589.89,311.90 L584.69,309.40 L582.29,306.90 L584.69,305.05 L589.89,303.20 L591.59,301.70Z"/></clipPath>
<path d="M591.59,301.70 L593.29,303.20 L598.49,305.05 L600.89,306.90 L598.49,309.40 L593.29,311.90 L591.59,313.90 L591.59,313.90 L589.89,311.90 L584.69,309.40 L582.29,306.90 L584.69,305.05 L589.89,303.20 L591.59,301.70Z" fill="#738777"/>
<g clip-path="url(#vc20)" shape-rendering="crispEdges" fill="#96e8a8"><path d="M589,303h1v1h-1zM589,304h1v1h-1zM590,304h1v1h-1zM591,304h1v1h-1zM586,305h1v1h-1zM587,305h1v1h-1zM593,305h1v1h-1zM585,306h1v1h-1zM586,306h1v1h-1zM585,307h1v1h-1zM586,307h1v1h-1zM587,307h1v1h-1zM595,307h1v1h-1zM588,308h1v1h-1zM589,308h1v1h-1zM594,308h1v1h-1zM595,308h1v1h-1zM598,308h1v1h-1zM588,309h1v1h-1zM589,309h1v1h-1zM591,309h1v1h-1zM592,309h1v1h-1zM593,309h1v1h-1zM594,309h1v1h-1zM595,309h1v1h-1zM589,310h1v1h-1zM590,310h1v1h-1zM589,311h1v1h-1zM590,311h1v1h-1zM592,311h1v1h-1z" fill-opacity="0.9"/><path d="M590,303h1v1h-1zM586,304h1v1h-1zM592,304h1v1h-1zM593,304h1v1h-1zM595,304h1v1h-1zM596,304h1v1h-1zM590,305h1v1h-1zM591,305h1v1h-1zM592,305h1v1h-1zM587,306h1v1h-1zM591,306h1v1h-1zM598,306h1v1h-1zM589,307h1v1h-1zM598,307h1v1h-1zM591,308h1v1h-1zM588,310h1v1h-1zM594,310h1v1h-1zM595,310h1v1h-1zM593,311h1v1h-1z" fill-opacity="0.38"/></g>
<path d="M591.59,301.70 L593.29,303.20 L598.49,305.05 L600.89,306.90 L598.49,309.40 L593.29,311.90 L591.59,313.90 L591.59,313.90 L589.89,311.90 L584.69,309.40 L582.29,306.90 L584.69,305.05 L589.89,303.20 L591.59,301.70Z" fill="none" stroke="#6a6a6a" stroke-width="1" stroke-linejoin="round"/>
<line x1="581.59" y1="306.5" x2="601.79" y2="306.5" stroke="#7a7a7a" stroke-width="0.6"/>
<clipPath id="vc21"><path d="M615.72,231.90 L616.42,236.90 L618.01,243.85 L619.12,250.80 L618.01,254.15 L616.42,257.50 L615.72,264.50 L615.72,264.50 L615.02,257.50 L613.43,254.15 L612.32,250.80 L613.43,243.85 L615.02,236.90 L615.72,231.90Z"/></clipPath>
<path d="M615.72,231.90 L616.42,236.90 L618.01,243.85 L619.12,250.80 L618.01,254.15 L616.42,257.50 L615.72,264.50 L615.72,264.50 L615.02,257.50 L613.43,254.15 L612.32,250.80 L613.43,243.85 L615.02,236.90 L615.72,231.90Z" fill="#7e7b89"/>
<g clip-path="url(#vc21)" shape-rendering="crispEdges" fill="#d0bfff"><path d="M615,235h1v1h-1zM615,236h1v1h-1zM615,237h1v1h-1zM615,238h1v1h-1zM614,239h1v1h-1zM615,239h1v1h-1zM616,239h1v1h-1zM614,242h1v1h-1zM617,242h1v1h-1zM614,243h1v1h-1zM614,244h1v1h-1zM615,244h1v1h-1zM616,244h1v1h-1zM617,244h1v1h-1zM614,245h1v1h-1zM615,245h1v1h-1zM617,245h1v1h-1zM617,247h1v1h-1zM618,247h1v1h-1zM613,248h1v1h-1zM617,248h1v1h-1zM613,249h1v1h-1zM617,249h1v1h-1zM615,252h1v1h-1zM618,252h1v1h-1zM614,253h1v1h-1zM615,253h1v1h-1zM615,254h1v1h-1zM616,254h1v1h-1zM614,255h1v1h-1zM616,255h1v1h-1zM615,256h1v1h-1zM616,256h1v1h-1zM615,257h1v1h-1zM615,258h1v1h-1z" fill-opacity="0.9"/><path d="M616,238h1v1h-1zM614,241h1v1h-1zM617,243h1v1h-1zM616,245h1v1h-1zM615,246h1v1h-1zM616,246h1v1h-1zM616,248h1v1h-1zM616,249h1v1h-1zM612,250h1v1h-1zM614,251h1v1h-1zM614,252h1v1h-1zM616,252h1v1h-1zM617,252h1v1h-1zM616,253h1v1h-1zM617,253h1v1h-1zM615,255h1v1h-1z" fill-opacity="0.38"/></g>
<path d="M615.72,231.90 L616.42,236.90 L618.01,243.85 L619.12,250.80 L618.01,254.15 L616.42,257.50 L615.72,264.50 L615.72,264.50 L615.02,257.50 L613.43,254.15 L612.32,250.80 L613.43,243.85 L615.02,236.90 L615.72,231.90Z" fill="none" stroke="#6a6a6a" stroke-width="1" stroke-linejoin="round"/>
<line x1="607.82" y1="250.5" x2="622.12" y2="250.5" stroke="#7a7a7a" stroke-width="0.6"/>
<clipPath id="vc22"><path d="M631.52,219.70 L632.12,226.00 L633.82,230.00 L634.72,233.70 L634.22,240.00 L633.22,245.00 L632.22,250.00 L631.52,256.50 L631.52,256.50 L630.82,250.00 L629.82,245.00 L628.82,240.00 L628.32,233.70 L629.22,230.00 L630.92,226.00 L631.52,219.70Z"/></clipPath>
<path d="M631.52,219.70 L632.12,226.00 L633.82,230.00 L634.72,233.70 L634.22,240.00 L633.22,245.00 L632.22,250.00 L631.52,256.50 L631.52,256.50 L630.82,250.00 L629.82,245.00 L628.82,240.00 L628.32,233.70 L629.22,230.00 L630.92,226.00 L631.52,219.70Z" fill="#738777"/>
<g clip-path="url(#vc22)" shape-rendering="crispEdges" fill="#96e8a8"><path d="M629,229h1v1h-1zM630,229h1v1h-1zM631,229h1v1h-1zM632,229h1v1h-1zM633,229h1v1h-1zM633,230h1v1h-1zM633,231h1v1h-1zM632,232h1v1h-1zM633,232h1v1h-1zM633,233h1v1h-1zM628,234h1v1h-1zM631,234h1v1h-1zM632,234h1v1h-1zM633,234h1v1h-1zM628,235h1v1h-1zM630,235h1v1h-1zM631,235h1v1h-1zM632,235h1v1h-1zM634,235h1v1h-1zM629,236h1v1h-1zM629,237h1v1h-1zM632,238h1v1h-1zM632,239h1v1h-1zM631,240h1v1h-1zM632,240h1v1h-1zM630,241h1v1h-1zM631,241h1v1h-1zM632,241h1v1h-1zM633,241h1v1h-1zM633,242h1v1h-1zM633,243h1v1h-1zM631,249h1v1h-1z" fill-opacity="0.9"/><path d="M631,226h1v1h-1zM632,227h1v1h-1zM630,228h1v1h-1zM631,228h1v1h-1zM632,228h1v1h-1zM634,233h1v1h-1zM629,234h1v1h-1zM630,234h1v1h-1zM634,234h1v1h-1zM631,238h1v1h-1zM631,239h1v1h-1zM630,240h1v1h-1zM633,240h1v1h-1zM630,242h1v1h-1zM630,243h1v1h-1zM631,245h1v1h-1zM632,245h1v1h-1zM631,246h1v1h-1zM631,248h1v1h-1zM632,248h1v1h-1z" fill-opacity="0.38"/></g>
<path d="M631.52,219.70 L632.12,226.00 L633.82,230.00 L634.72,233.70 L634.22,240.00 L633.22,245.00 L632.22,250.00 L631.52,256.50 L631.52,256.50 L630.82,250.00 L629.82,245.00 L628.82,240.00 L628.32,233.70 L629.22,230.00 L630.92,226.00 L631.52,219.70Z" fill="none" stroke="#6a6a6a" stroke-width="1" stroke-linejoin="round"/>
<line x1="628.72" y1="227.5" x2="632.67" y2="227.5" stroke="#7a7a7a" stroke-width="0.6"/>
<line x1="624.02" y1="233.5" x2="638.02" y2="233.5" stroke="#7a7a7a" stroke-width="0.6"/>
<clipPath id="vc23"><path d="M655.65,290.00 L656.35,292.50 L660.00,296.20 L662.85,299.90 L660.00,303.15 L656.35,306.40 L655.65,308.90 L655.65,308.90 L654.95,306.40 L651.30,303.15 L648.45,299.90 L651.30,296.20 L654.95,292.50 L655.65,290.00Z"/></clipPath>
<path d="M655.65,290.00 L656.35,292.50 L660.00,296.20 L662.85,299.90 L660.00,303.15 L656.35,306.40 L655.65,308.90 L655.65,308.90 L654.95,306.40 L651.30,303.15 L648.45,299.90 L651.30,296.20 L654.95,292.50 L655.65,290.00Z" fill="#7e7b89"/>
<g clip-path="url(#vc23)" shape-rendering="crispEdges" fill="#d0bfff"><path d="M656,293h1v1h-1zM653,294h1v1h-1zM653,296h1v1h-1zM654,296h1v1h-1zM654,297h1v1h-1zM660,297h1v1h-1zM650,298h1v1h-1zM661,298h1v1h-1zM650,299h1v1h-1zM661,299h1v1h-1zM662,299h1v1h-1zM654,300h1v1h-1zM656,300h1v1h-1zM658,300h1v1h-1zM652,302h1v1h-1zM657,302h1v1h-1zM658,302h1v1h-1zM657,303h1v1h-1zM658,303h1v1h-1zM655,306h1v1h-1z" fill-opacity="0.9"/><path d="M654,294h1v1h-1zM653,295h1v1h-1zM654,295h1v1h-1zM651,296h1v1h-1zM652,296h1v1h-1zM655,296h1v1h-1zM657,296h1v1h-1zM658,296h1v1h-1zM659,296h1v1h-1zM650,297h1v1h-1zM651,297h1v1h-1zM653,297h1v1h-1zM655,297h1v1h-1zM656,297h1v1h-1zM651,298h1v1h-1zM649,299h1v1h-1zM651,299h1v1h-1zM649,300h1v1h-1zM655,300h1v1h-1zM655,304h1v1h-1zM654,305h1v1h-1z" fill-opacity="0.38"/></g>
<path d="M655.65,290.00 L656.35,292.50 L660.00,296.20 L662.85,299.90 L660.00,303.15 L656.35,306.40 L655.65,308.90 L655.65,308.90 L654.95,306.40 L651.30,303.15 L648.45,299.90 L651.30,296.20 L654.95,292.50 L655.65,290.00Z" fill="none" stroke="#6a6a6a" stroke-width="1" stroke-linejoin="round"/>
<line x1="646.75" y1="299.5" x2="663.45" y2="299.5" stroke="#7a7a7a" stroke-width="0.6"/>
<clipPath id="vc24"><path d="M671.45,284.90 L672.15,286.90 L675.50,289.85 L677.55,292.80 L675.50,295.95 L672.15,299.10 L671.45,302.10 L671.45,302.10 L670.75,299.10 L667.40,295.95 L665.35,292.80 L667.40,289.85 L670.75,286.90 L671.45,284.90Z"/></clipPath>
<path d="M671.45,284.90 L672.15,286.90 L675.50,289.85 L677.55,292.80 L675.50,295.95 L672.15,299.10 L671.45,302.10 L671.45,302.10 L670.75,299.10 L667.40,295.95 L665.35,292.80 L667.40,289.85 L670.75,286.90 L671.45,284.90Z" fill="#738777"/>
<g clip-path="url(#vc24)" shape-rendering="crispEdges" fill="#96e8a8"><path d="M669,288h1v1h-1zM668,289h1v1h-1zM669,289h1v1h-1zM671,290h1v1h-1zM672,290h1v1h-1zM671,291h1v1h-1zM672,291h1v1h-1zM668,293h1v1h-1zM666,294h1v1h-1zM669,294h1v1h-1zM670,294h1v1h-1zM671,294h1v1h-1zM672,294h1v1h-1zM673,294h1v1h-1zM674,294h1v1h-1zM675,294h1v1h-1zM669,295h1v1h-1zM670,295h1v1h-1zM671,295h1v1h-1zM672,295h1v1h-1zM675,295h1v1h-1zM668,296h1v1h-1zM669,296h1v1h-1zM670,296h1v1h-1zM671,297h1v1h-1zM671,298h1v1h-1zM672,298h1v1h-1zM671,299h1v1h-1z" fill-opacity="0.9"/><path d="M671,287h1v1h-1zM674,290h1v1h-1zM674,291h1v1h-1zM669,292h1v1h-1zM666,293h1v1h-1zM669,293h1v1h-1zM673,295h1v1h-1zM674,295h1v1h-1zM672,296h1v1h-1zM674,296h1v1h-1zM669,297h1v1h-1zM670,297h1v1h-1zM672,297h1v1h-1zM670,298h1v1h-1z" fill-opacity="0.38"/></g>
<path d="M671.45,284.90 L672.15,286.90 L675.50,289.85 L677.55,292.80 L675.50,295.95 L672.15,299.10 L671.45,302.10 L671.45,302.10 L670.75,299.10 L667.40,295.95 L665.35,292.80 L667.40,289.85 L670.75,286.90 L671.45,284.90Z" fill="none" stroke="#6a6a6a" stroke-width="1" stroke-linejoin="round"/>
<line x1="663.45" y1="292.5" x2="681.55" y2="292.5" stroke="#7a7a7a" stroke-width="0.6"/>
<rect x="444.0" y="190.5" width="239.5" height="155.5" fill="none" stroke="#7c7c7c" stroke-width="1"/>
<line x1="441.3" y1="346.00" x2="444.0" y2="346.00" stroke="#7c7c7c" stroke-width="0.8"/>
<text x="439.1" y="348.45" font-size="7.2" fill="#141414" text-anchor="end">0</text>
<line x1="441.3" y1="323.79" x2="444.0" y2="323.79" stroke="#7c7c7c" stroke-width="0.8"/>
<text x="439.1" y="326.24" font-size="7.2" fill="#141414" text-anchor="end">100</text>
<line x1="441.3" y1="301.57" x2="444.0" y2="301.57" stroke="#7c7c7c" stroke-width="0.8"/>
<text x="439.1" y="304.02" font-size="7.2" fill="#141414" text-anchor="end">200</text>
<line x1="441.3" y1="279.36" x2="444.0" y2="279.36" stroke="#7c7c7c" stroke-width="0.8"/>
<text x="439.1" y="281.81" font-size="7.2" fill="#141414" text-anchor="end">300</text>
<line x1="441.3" y1="257.14" x2="444.0" y2="257.14" stroke="#7c7c7c" stroke-width="0.8"/>
<text x="439.1" y="259.59" font-size="7.2" fill="#141414" text-anchor="end">400</text>
<line x1="441.3" y1="234.93" x2="444.0" y2="234.93" stroke="#7c7c7c" stroke-width="0.8"/>
<text x="439.1" y="237.38" font-size="7.2" fill="#141414" text-anchor="end">500</text>
<line x1="441.3" y1="212.71" x2="444.0" y2="212.71" stroke="#7c7c7c" stroke-width="0.8"/>
<text x="439.1" y="215.16" font-size="7.2" fill="#141414" text-anchor="end">600</text>
<line x1="441.3" y1="190.50" x2="444.0" y2="190.50" stroke="#7c7c7c" stroke-width="0.8"/>
<text x="439.1" y="192.95" font-size="7.2" fill="#141414" text-anchor="end">700</text>
<line x1="463.90" y1="346.0" x2="463.90" y2="348.7" stroke="#7c7c7c" stroke-width="0.8"/>
<text x="463.90" y="356.10" font-size="7.2" fill="#141414" text-anchor="middle">A</text>
<line x1="503.83" y1="346.0" x2="503.83" y2="348.7" stroke="#7c7c7c" stroke-width="0.8"/>
<text x="503.83" y="356.10" font-size="7.2" fill="#141414" text-anchor="middle">B</text>
<line x1="543.76" y1="346.0" x2="543.76" y2="348.7" stroke="#7c7c7c" stroke-width="0.8"/>
<text x="543.76" y="356.10" font-size="7.2" fill="#141414" text-anchor="middle">C</text>
<line x1="583.69" y1="346.0" x2="583.69" y2="348.7" stroke="#7c7c7c" stroke-width="0.8"/>
<text x="583.69" y="356.10" font-size="7.2" fill="#141414" text-anchor="middle">D</text>
<line x1="623.62" y1="346.0" x2="623.62" y2="348.7" stroke="#7c7c7c" stroke-width="0.8"/>
<text x="623.62" y="356.10" font-size="7.2" fill="#141414" text-anchor="middle">E</text>
<line x1="663.55" y1="346.0" x2="663.55" y2="348.7" stroke="#7c7c7c" stroke-width="0.8"/>
<text x="663.55" y="356.10" font-size="7.2" fill="#141414" text-anchor="middle">F</text>
<text x="563.8" y="367.4" font-size="9.7" fill="#141414" text-anchor="middle">Vial</text>
<text transform="translate(420.4,267.6) rotate(-90)" font-size="9.7" fill="#141414" text-anchor="middle">k<tspan font-size="76%" dy="0.25em" font-style="italic">sw</tspan><tspan dy="-0.25em"> (s</tspan><tspan font-size="76%" dy="-0.45em">−1</tspan><tspan dy="0.45em">)</tspan></text>
<text x="449.1" y="203.2" font-size="12.8" font-weight="bold" fill="#000">f</text>
</g>
<g id="legend-f">
<rect x="449.0" y="297.7" width="87.4" height="42.8" rx="2" ry="2" fill="#fff" fill-opacity="0.82" stroke="#d6d6d6" stroke-width="0.8"/>
<rect x="452.4" y="308.6" width="20.4" height="7.2" fill="#d0bfff" stroke="#6a6a6a" stroke-width="0.8"/>
<rect x="452.4" y="328.3" width="20.4" height="7.2" fill="#96e8a8" stroke="#6a6a6a" stroke-width="0.8"/>
<text font-family='"DejaVu Serif","Liberation Serif",serif' font-size="9.78" fill="#141414"><tspan x="480.9" y="308.5">Dictionary</tspan><tspan x="480.9" y="319.8">matching</tspan></text>
<text x="480.9" y="334.9" font-family='"DejaVu Serif","Liberation Serif",serif' font-size="9.78" fill="#141414">NBMF</text>
</g>
</svg>
</body></html>
